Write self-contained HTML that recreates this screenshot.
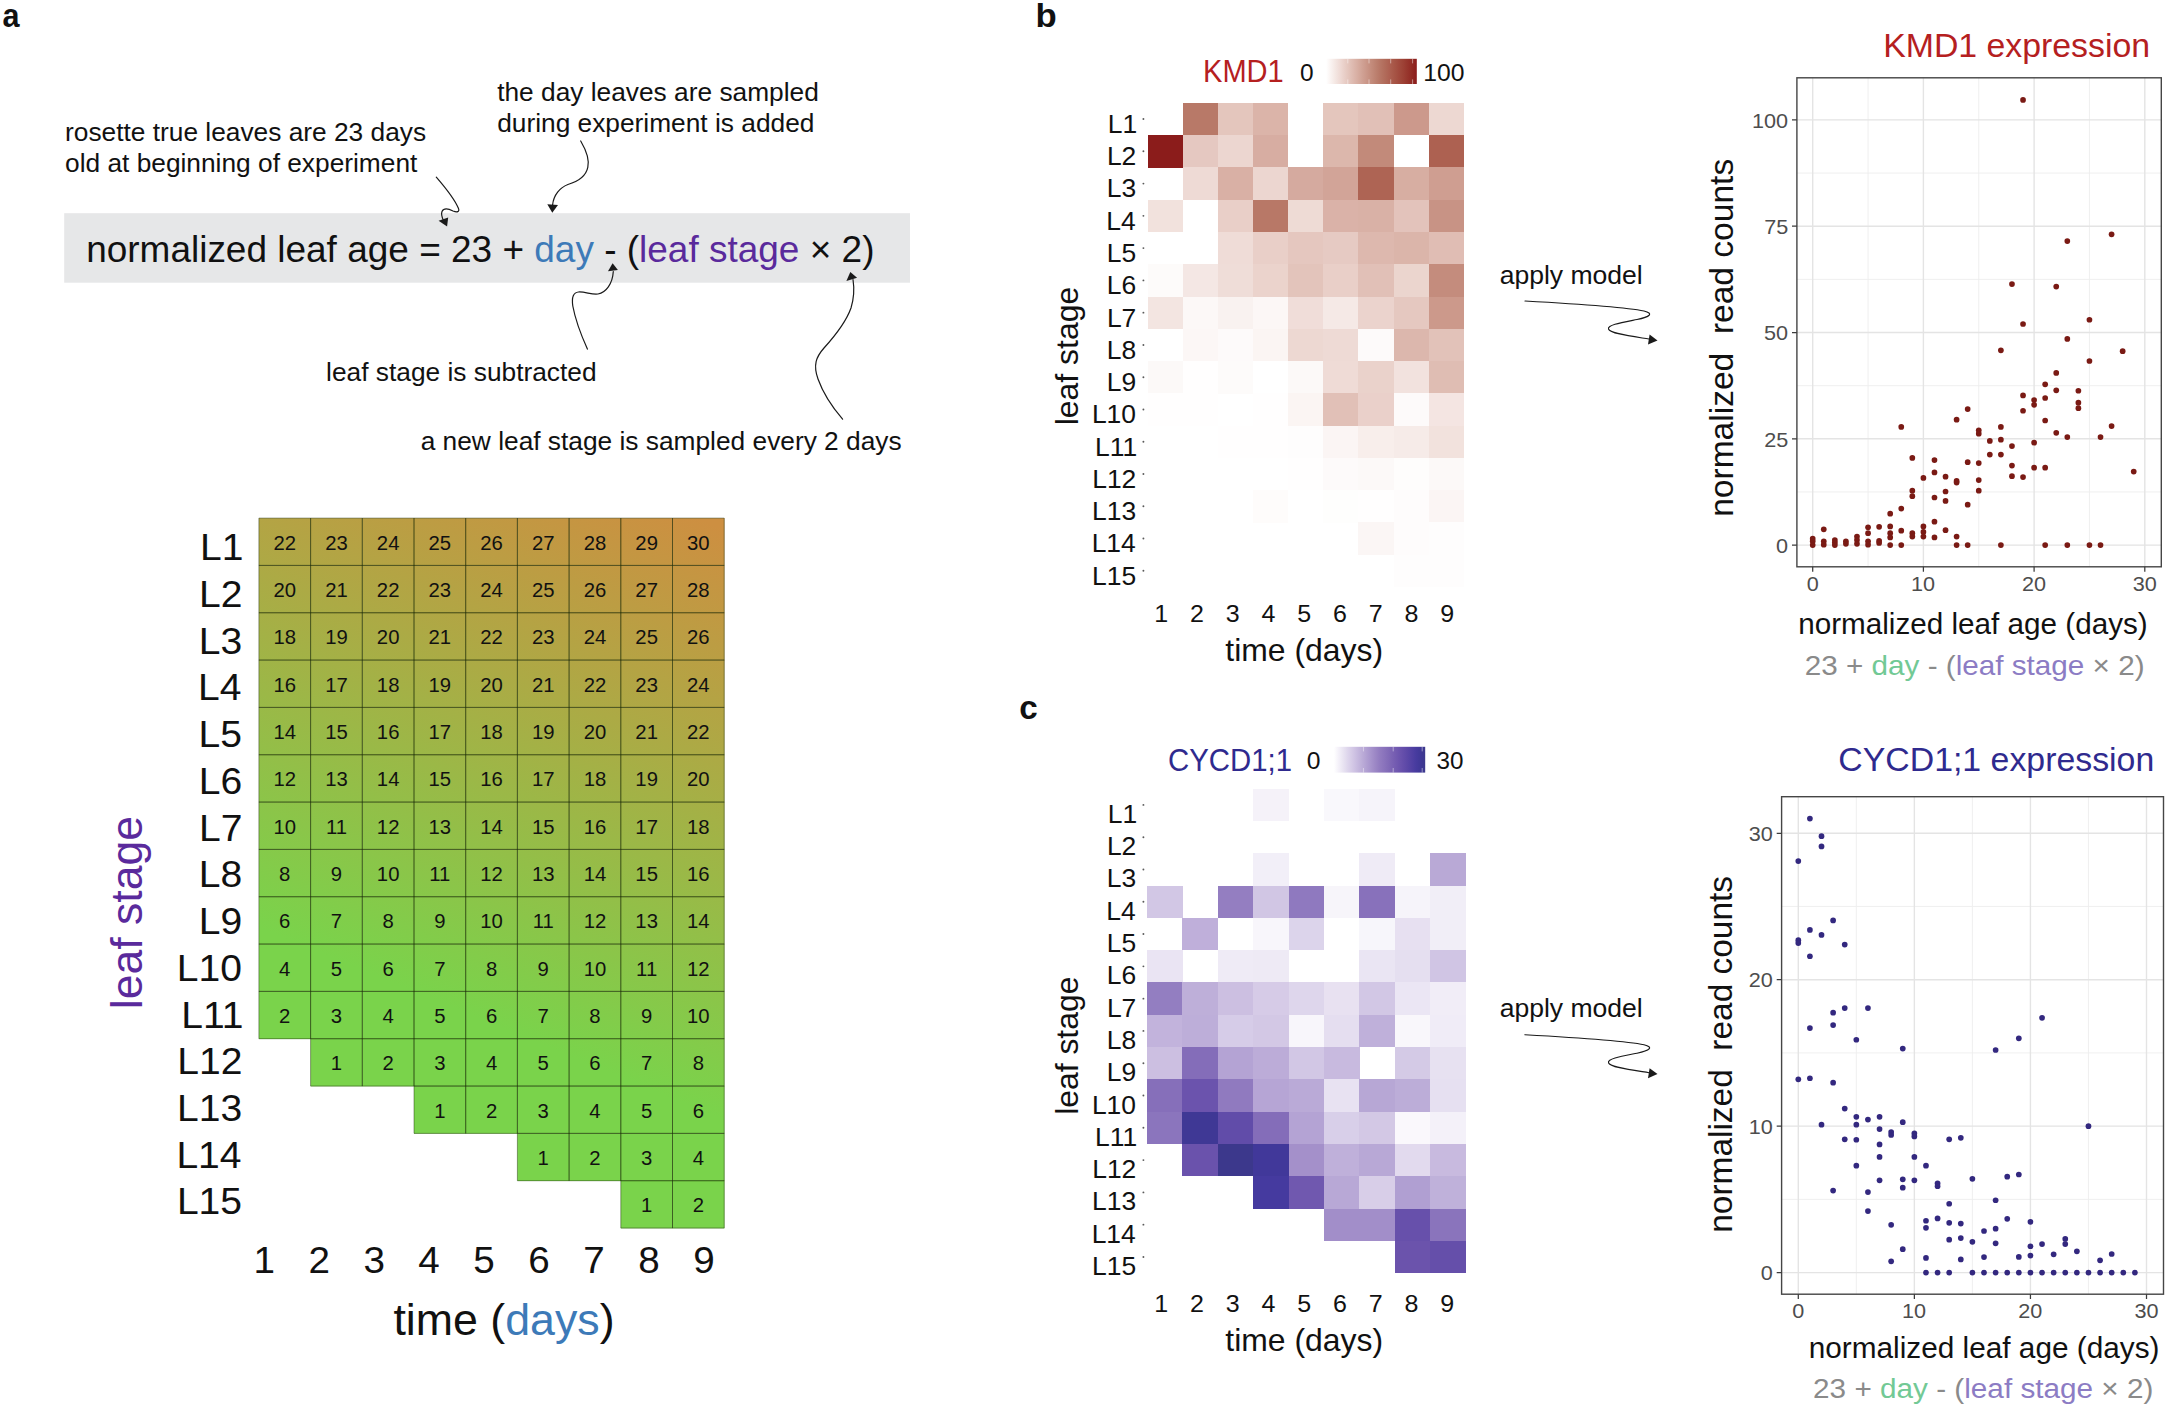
<!DOCTYPE html>
<html lang="en"><head><meta charset="utf-8"><title>Normalized leaf age model</title>
<style>html,body{margin:0;padding:0;background:#fff}svg{display:block}text{font-family:"Liberation Sans",Arial,Helvetica,sans-serif}</style></head><body>
<svg width="2168" height="1410" viewBox="0 0 2168 1410">
<rect width="2168" height="1410" fill="#fff"/>
<text transform="translate(2.40,27.30) scale(0.8991,1)" font-size="34" fill="#111" text-anchor="start" font-weight="bold" xml:space="preserve">a</text>
<text transform="translate(1035.61,27.20) scale(1.0214,1)" font-size="34" fill="#111" text-anchor="start" font-weight="bold" xml:space="preserve">b</text>
<text transform="translate(1019.30,719.30) scale(0.9768,1)" font-size="34" fill="#111" text-anchor="start" font-weight="bold" xml:space="preserve">c</text>
<text x="65.00" y="140.70" font-size="26.3" fill="#111" text-anchor="start">rosette true leaves are 23 days</text>
<text x="65.00" y="172.00" font-size="26.3" fill="#111" text-anchor="start">old at beginning of experiment</text>
<text x="497.20" y="100.60" font-size="26.3" fill="#111" text-anchor="start">the day leaves are sampled</text>
<text x="497.20" y="131.90" font-size="26.3" fill="#111" text-anchor="start">during experiment is added</text>
<text x="326.10" y="381.00" font-size="26.3" fill="#111" text-anchor="start">leaf stage is subtracted</text>
<text x="420.70" y="449.70" font-size="26.3" fill="#111" text-anchor="start">a new leaf stage is sampled every 2 days</text>
<rect x="64.2" y="213.2" width="845.8" height="69.5" fill="#e6e7e8"/>
<text transform="translate(86.14,261.60) scale(1.0107,1)" font-size="36.6" fill="#111" text-anchor="start" xml:space="preserve">normalized leaf age = 23 + <tspan fill="#3d7ab8">day</tspan> - (<tspan fill="#5a2a9c">leaf stage</tspan> × 2)</text>
<path d="M436.3,177.1 C444,186 455,200 458.4,208.3 C460,212 457,212.5 453,211 C448,208.5 443.5,208.5 442,211.5 C441,214 441.8,217 443.5,220.5" fill="none" stroke="#1a1a1a" stroke-width="1.2" stroke-linecap="round"/>
<polygon points="447.1,226.5 438.6,220.8 448.2,217.4" fill="#1a1a1a"/>
<path d="M580.7,141 C586,150 589.5,160 587.8,167.4 C586,176 578,181.5 567.9,184.5 C560,187.5 553.5,195 552.6,205" fill="none" stroke="#1a1a1a" stroke-width="1.2" stroke-linecap="round"/>
<polygon points="552.3,212.8 547.3,204.2 558.0,204.9" fill="#1a1a1a"/>
<path d="M587.4,349.1 C582,337 575,318 572.8,306 C571.5,297 573.5,292.5 578.5,292 C585,291.5 592,295 598,294 C606,292.5 612.5,284 613.3,271.5" fill="none" stroke="#1a1a1a" stroke-width="1.2" stroke-linecap="round"/>
<polygon points="612.6,263.2 608.0,271.2 617.9,270.0" fill="#1a1a1a"/>
<path d="M842.6,419.2 C833,408 823,393 818,379 C813,365 816,357 824,348 C834,337 846,322 851,308 C854,298 854.5,289 853.0,279.5" fill="none" stroke="#1a1a1a" stroke-width="1.2" stroke-linecap="round"/>
<polygon points="850.3,272.0 846.4,280.9 857.1,277.8" fill="#1a1a1a"/>
<defs><linearGradient id="gg" gradientUnits="userSpaceOnUse" x1="285" y1="938" x2="493.9" y2="433.6"><stop offset="0" stop-color="#7ad34b"/><stop offset="1" stop-color="#cd8f41"/></linearGradient></defs>
<rect x="258.90" y="518.10" width="52.00" height="47.63" fill="url(#gg)"/>
<rect x="310.60" y="518.10" width="52.00" height="47.63" fill="url(#gg)"/>
<rect x="362.30" y="518.10" width="52.00" height="47.63" fill="url(#gg)"/>
<rect x="414.00" y="518.10" width="52.00" height="47.63" fill="url(#gg)"/>
<rect x="465.70" y="518.10" width="52.00" height="47.63" fill="url(#gg)"/>
<rect x="517.40" y="518.10" width="52.00" height="47.63" fill="url(#gg)"/>
<rect x="569.10" y="518.10" width="52.00" height="47.63" fill="url(#gg)"/>
<rect x="620.80" y="518.10" width="52.00" height="47.63" fill="url(#gg)"/>
<rect x="672.50" y="518.10" width="52.00" height="47.63" fill="url(#gg)"/>
<rect x="258.90" y="565.43" width="52.00" height="47.63" fill="url(#gg)"/>
<rect x="310.60" y="565.43" width="52.00" height="47.63" fill="url(#gg)"/>
<rect x="362.30" y="565.43" width="52.00" height="47.63" fill="url(#gg)"/>
<rect x="414.00" y="565.43" width="52.00" height="47.63" fill="url(#gg)"/>
<rect x="465.70" y="565.43" width="52.00" height="47.63" fill="url(#gg)"/>
<rect x="517.40" y="565.43" width="52.00" height="47.63" fill="url(#gg)"/>
<rect x="569.10" y="565.43" width="52.00" height="47.63" fill="url(#gg)"/>
<rect x="620.80" y="565.43" width="52.00" height="47.63" fill="url(#gg)"/>
<rect x="672.50" y="565.43" width="52.00" height="47.63" fill="url(#gg)"/>
<rect x="258.90" y="612.76" width="52.00" height="47.63" fill="url(#gg)"/>
<rect x="310.60" y="612.76" width="52.00" height="47.63" fill="url(#gg)"/>
<rect x="362.30" y="612.76" width="52.00" height="47.63" fill="url(#gg)"/>
<rect x="414.00" y="612.76" width="52.00" height="47.63" fill="url(#gg)"/>
<rect x="465.70" y="612.76" width="52.00" height="47.63" fill="url(#gg)"/>
<rect x="517.40" y="612.76" width="52.00" height="47.63" fill="url(#gg)"/>
<rect x="569.10" y="612.76" width="52.00" height="47.63" fill="url(#gg)"/>
<rect x="620.80" y="612.76" width="52.00" height="47.63" fill="url(#gg)"/>
<rect x="672.50" y="612.76" width="52.00" height="47.63" fill="url(#gg)"/>
<rect x="258.90" y="660.09" width="52.00" height="47.63" fill="url(#gg)"/>
<rect x="310.60" y="660.09" width="52.00" height="47.63" fill="url(#gg)"/>
<rect x="362.30" y="660.09" width="52.00" height="47.63" fill="url(#gg)"/>
<rect x="414.00" y="660.09" width="52.00" height="47.63" fill="url(#gg)"/>
<rect x="465.70" y="660.09" width="52.00" height="47.63" fill="url(#gg)"/>
<rect x="517.40" y="660.09" width="52.00" height="47.63" fill="url(#gg)"/>
<rect x="569.10" y="660.09" width="52.00" height="47.63" fill="url(#gg)"/>
<rect x="620.80" y="660.09" width="52.00" height="47.63" fill="url(#gg)"/>
<rect x="672.50" y="660.09" width="52.00" height="47.63" fill="url(#gg)"/>
<rect x="258.90" y="707.42" width="52.00" height="47.63" fill="url(#gg)"/>
<rect x="310.60" y="707.42" width="52.00" height="47.63" fill="url(#gg)"/>
<rect x="362.30" y="707.42" width="52.00" height="47.63" fill="url(#gg)"/>
<rect x="414.00" y="707.42" width="52.00" height="47.63" fill="url(#gg)"/>
<rect x="465.70" y="707.42" width="52.00" height="47.63" fill="url(#gg)"/>
<rect x="517.40" y="707.42" width="52.00" height="47.63" fill="url(#gg)"/>
<rect x="569.10" y="707.42" width="52.00" height="47.63" fill="url(#gg)"/>
<rect x="620.80" y="707.42" width="52.00" height="47.63" fill="url(#gg)"/>
<rect x="672.50" y="707.42" width="52.00" height="47.63" fill="url(#gg)"/>
<rect x="258.90" y="754.75" width="52.00" height="47.63" fill="url(#gg)"/>
<rect x="310.60" y="754.75" width="52.00" height="47.63" fill="url(#gg)"/>
<rect x="362.30" y="754.75" width="52.00" height="47.63" fill="url(#gg)"/>
<rect x="414.00" y="754.75" width="52.00" height="47.63" fill="url(#gg)"/>
<rect x="465.70" y="754.75" width="52.00" height="47.63" fill="url(#gg)"/>
<rect x="517.40" y="754.75" width="52.00" height="47.63" fill="url(#gg)"/>
<rect x="569.10" y="754.75" width="52.00" height="47.63" fill="url(#gg)"/>
<rect x="620.80" y="754.75" width="52.00" height="47.63" fill="url(#gg)"/>
<rect x="672.50" y="754.75" width="52.00" height="47.63" fill="url(#gg)"/>
<rect x="258.90" y="802.08" width="52.00" height="47.63" fill="url(#gg)"/>
<rect x="310.60" y="802.08" width="52.00" height="47.63" fill="url(#gg)"/>
<rect x="362.30" y="802.08" width="52.00" height="47.63" fill="url(#gg)"/>
<rect x="414.00" y="802.08" width="52.00" height="47.63" fill="url(#gg)"/>
<rect x="465.70" y="802.08" width="52.00" height="47.63" fill="url(#gg)"/>
<rect x="517.40" y="802.08" width="52.00" height="47.63" fill="url(#gg)"/>
<rect x="569.10" y="802.08" width="52.00" height="47.63" fill="url(#gg)"/>
<rect x="620.80" y="802.08" width="52.00" height="47.63" fill="url(#gg)"/>
<rect x="672.50" y="802.08" width="52.00" height="47.63" fill="url(#gg)"/>
<rect x="258.90" y="849.41" width="52.00" height="47.63" fill="url(#gg)"/>
<rect x="310.60" y="849.41" width="52.00" height="47.63" fill="url(#gg)"/>
<rect x="362.30" y="849.41" width="52.00" height="47.63" fill="url(#gg)"/>
<rect x="414.00" y="849.41" width="52.00" height="47.63" fill="url(#gg)"/>
<rect x="465.70" y="849.41" width="52.00" height="47.63" fill="url(#gg)"/>
<rect x="517.40" y="849.41" width="52.00" height="47.63" fill="url(#gg)"/>
<rect x="569.10" y="849.41" width="52.00" height="47.63" fill="url(#gg)"/>
<rect x="620.80" y="849.41" width="52.00" height="47.63" fill="url(#gg)"/>
<rect x="672.50" y="849.41" width="52.00" height="47.63" fill="url(#gg)"/>
<rect x="258.90" y="896.74" width="52.00" height="47.63" fill="url(#gg)"/>
<rect x="310.60" y="896.74" width="52.00" height="47.63" fill="url(#gg)"/>
<rect x="362.30" y="896.74" width="52.00" height="47.63" fill="url(#gg)"/>
<rect x="414.00" y="896.74" width="52.00" height="47.63" fill="url(#gg)"/>
<rect x="465.70" y="896.74" width="52.00" height="47.63" fill="url(#gg)"/>
<rect x="517.40" y="896.74" width="52.00" height="47.63" fill="url(#gg)"/>
<rect x="569.10" y="896.74" width="52.00" height="47.63" fill="url(#gg)"/>
<rect x="620.80" y="896.74" width="52.00" height="47.63" fill="url(#gg)"/>
<rect x="672.50" y="896.74" width="52.00" height="47.63" fill="url(#gg)"/>
<rect x="258.90" y="944.07" width="52.00" height="47.63" fill="url(#gg)"/>
<rect x="310.60" y="944.07" width="52.00" height="47.63" fill="url(#gg)"/>
<rect x="362.30" y="944.07" width="52.00" height="47.63" fill="url(#gg)"/>
<rect x="414.00" y="944.07" width="52.00" height="47.63" fill="url(#gg)"/>
<rect x="465.70" y="944.07" width="52.00" height="47.63" fill="url(#gg)"/>
<rect x="517.40" y="944.07" width="52.00" height="47.63" fill="url(#gg)"/>
<rect x="569.10" y="944.07" width="52.00" height="47.63" fill="url(#gg)"/>
<rect x="620.80" y="944.07" width="52.00" height="47.63" fill="url(#gg)"/>
<rect x="672.50" y="944.07" width="52.00" height="47.63" fill="url(#gg)"/>
<rect x="258.90" y="991.40" width="52.00" height="47.63" fill="url(#gg)"/>
<rect x="310.60" y="991.40" width="52.00" height="47.63" fill="url(#gg)"/>
<rect x="362.30" y="991.40" width="52.00" height="47.63" fill="url(#gg)"/>
<rect x="414.00" y="991.40" width="52.00" height="47.63" fill="url(#gg)"/>
<rect x="465.70" y="991.40" width="52.00" height="47.63" fill="url(#gg)"/>
<rect x="517.40" y="991.40" width="52.00" height="47.63" fill="url(#gg)"/>
<rect x="569.10" y="991.40" width="52.00" height="47.63" fill="url(#gg)"/>
<rect x="620.80" y="991.40" width="52.00" height="47.63" fill="url(#gg)"/>
<rect x="672.50" y="991.40" width="52.00" height="47.63" fill="url(#gg)"/>
<rect x="310.60" y="1038.73" width="52.00" height="47.63" fill="url(#gg)"/>
<rect x="362.30" y="1038.73" width="52.00" height="47.63" fill="url(#gg)"/>
<rect x="414.00" y="1038.73" width="52.00" height="47.63" fill="url(#gg)"/>
<rect x="465.70" y="1038.73" width="52.00" height="47.63" fill="url(#gg)"/>
<rect x="517.40" y="1038.73" width="52.00" height="47.63" fill="url(#gg)"/>
<rect x="569.10" y="1038.73" width="52.00" height="47.63" fill="url(#gg)"/>
<rect x="620.80" y="1038.73" width="52.00" height="47.63" fill="url(#gg)"/>
<rect x="672.50" y="1038.73" width="52.00" height="47.63" fill="url(#gg)"/>
<rect x="414.00" y="1086.06" width="52.00" height="47.63" fill="url(#gg)"/>
<rect x="465.70" y="1086.06" width="52.00" height="47.63" fill="url(#gg)"/>
<rect x="517.40" y="1086.06" width="52.00" height="47.63" fill="url(#gg)"/>
<rect x="569.10" y="1086.06" width="52.00" height="47.63" fill="url(#gg)"/>
<rect x="620.80" y="1086.06" width="52.00" height="47.63" fill="url(#gg)"/>
<rect x="672.50" y="1086.06" width="52.00" height="47.63" fill="url(#gg)"/>
<rect x="517.40" y="1133.39" width="52.00" height="47.63" fill="url(#gg)"/>
<rect x="569.10" y="1133.39" width="52.00" height="47.63" fill="url(#gg)"/>
<rect x="620.80" y="1133.39" width="52.00" height="47.63" fill="url(#gg)"/>
<rect x="672.50" y="1133.39" width="52.00" height="47.63" fill="url(#gg)"/>
<rect x="620.80" y="1180.72" width="52.00" height="47.63" fill="url(#gg)"/>
<rect x="672.50" y="1180.72" width="52.00" height="47.63" fill="url(#gg)"/>
<path d="M258.90,518.10h51.70v47.33h-51.70zM310.60,518.10h51.70v47.33h-51.70zM362.30,518.10h51.70v47.33h-51.70zM414.00,518.10h51.70v47.33h-51.70zM465.70,518.10h51.70v47.33h-51.70zM517.40,518.10h51.70v47.33h-51.70zM569.10,518.10h51.70v47.33h-51.70zM620.80,518.10h51.70v47.33h-51.70zM672.50,518.10h51.70v47.33h-51.70zM258.90,565.43h51.70v47.33h-51.70zM310.60,565.43h51.70v47.33h-51.70zM362.30,565.43h51.70v47.33h-51.70zM414.00,565.43h51.70v47.33h-51.70zM465.70,565.43h51.70v47.33h-51.70zM517.40,565.43h51.70v47.33h-51.70zM569.10,565.43h51.70v47.33h-51.70zM620.80,565.43h51.70v47.33h-51.70zM672.50,565.43h51.70v47.33h-51.70zM258.90,612.76h51.70v47.33h-51.70zM310.60,612.76h51.70v47.33h-51.70zM362.30,612.76h51.70v47.33h-51.70zM414.00,612.76h51.70v47.33h-51.70zM465.70,612.76h51.70v47.33h-51.70zM517.40,612.76h51.70v47.33h-51.70zM569.10,612.76h51.70v47.33h-51.70zM620.80,612.76h51.70v47.33h-51.70zM672.50,612.76h51.70v47.33h-51.70zM258.90,660.09h51.70v47.33h-51.70zM310.60,660.09h51.70v47.33h-51.70zM362.30,660.09h51.70v47.33h-51.70zM414.00,660.09h51.70v47.33h-51.70zM465.70,660.09h51.70v47.33h-51.70zM517.40,660.09h51.70v47.33h-51.70zM569.10,660.09h51.70v47.33h-51.70zM620.80,660.09h51.70v47.33h-51.70zM672.50,660.09h51.70v47.33h-51.70zM258.90,707.42h51.70v47.33h-51.70zM310.60,707.42h51.70v47.33h-51.70zM362.30,707.42h51.70v47.33h-51.70zM414.00,707.42h51.70v47.33h-51.70zM465.70,707.42h51.70v47.33h-51.70zM517.40,707.42h51.70v47.33h-51.70zM569.10,707.42h51.70v47.33h-51.70zM620.80,707.42h51.70v47.33h-51.70zM672.50,707.42h51.70v47.33h-51.70zM258.90,754.75h51.70v47.33h-51.70zM310.60,754.75h51.70v47.33h-51.70zM362.30,754.75h51.70v47.33h-51.70zM414.00,754.75h51.70v47.33h-51.70zM465.70,754.75h51.70v47.33h-51.70zM517.40,754.75h51.70v47.33h-51.70zM569.10,754.75h51.70v47.33h-51.70zM620.80,754.75h51.70v47.33h-51.70zM672.50,754.75h51.70v47.33h-51.70zM258.90,802.08h51.70v47.33h-51.70zM310.60,802.08h51.70v47.33h-51.70zM362.30,802.08h51.70v47.33h-51.70zM414.00,802.08h51.70v47.33h-51.70zM465.70,802.08h51.70v47.33h-51.70zM517.40,802.08h51.70v47.33h-51.70zM569.10,802.08h51.70v47.33h-51.70zM620.80,802.08h51.70v47.33h-51.70zM672.50,802.08h51.70v47.33h-51.70zM258.90,849.41h51.70v47.33h-51.70zM310.60,849.41h51.70v47.33h-51.70zM362.30,849.41h51.70v47.33h-51.70zM414.00,849.41h51.70v47.33h-51.70zM465.70,849.41h51.70v47.33h-51.70zM517.40,849.41h51.70v47.33h-51.70zM569.10,849.41h51.70v47.33h-51.70zM620.80,849.41h51.70v47.33h-51.70zM672.50,849.41h51.70v47.33h-51.70zM258.90,896.74h51.70v47.33h-51.70zM310.60,896.74h51.70v47.33h-51.70zM362.30,896.74h51.70v47.33h-51.70zM414.00,896.74h51.70v47.33h-51.70zM465.70,896.74h51.70v47.33h-51.70zM517.40,896.74h51.70v47.33h-51.70zM569.10,896.74h51.70v47.33h-51.70zM620.80,896.74h51.70v47.33h-51.70zM672.50,896.74h51.70v47.33h-51.70zM258.90,944.07h51.70v47.33h-51.70zM310.60,944.07h51.70v47.33h-51.70zM362.30,944.07h51.70v47.33h-51.70zM414.00,944.07h51.70v47.33h-51.70zM465.70,944.07h51.70v47.33h-51.70zM517.40,944.07h51.70v47.33h-51.70zM569.10,944.07h51.70v47.33h-51.70zM620.80,944.07h51.70v47.33h-51.70zM672.50,944.07h51.70v47.33h-51.70zM258.90,991.40h51.70v47.33h-51.70zM310.60,991.40h51.70v47.33h-51.70zM362.30,991.40h51.70v47.33h-51.70zM414.00,991.40h51.70v47.33h-51.70zM465.70,991.40h51.70v47.33h-51.70zM517.40,991.40h51.70v47.33h-51.70zM569.10,991.40h51.70v47.33h-51.70zM620.80,991.40h51.70v47.33h-51.70zM672.50,991.40h51.70v47.33h-51.70zM310.60,1038.73h51.70v47.33h-51.70zM362.30,1038.73h51.70v47.33h-51.70zM414.00,1038.73h51.70v47.33h-51.70zM465.70,1038.73h51.70v47.33h-51.70zM517.40,1038.73h51.70v47.33h-51.70zM569.10,1038.73h51.70v47.33h-51.70zM620.80,1038.73h51.70v47.33h-51.70zM672.50,1038.73h51.70v47.33h-51.70zM414.00,1086.06h51.70v47.33h-51.70zM465.70,1086.06h51.70v47.33h-51.70zM517.40,1086.06h51.70v47.33h-51.70zM569.10,1086.06h51.70v47.33h-51.70zM620.80,1086.06h51.70v47.33h-51.70zM672.50,1086.06h51.70v47.33h-51.70zM517.40,1133.39h51.70v47.33h-51.70zM569.10,1133.39h51.70v47.33h-51.70zM620.80,1133.39h51.70v47.33h-51.70zM672.50,1133.39h51.70v47.33h-51.70zM620.80,1180.72h51.70v47.33h-51.70zM672.50,1180.72h51.70v47.33h-51.70z" fill="none" stroke="#1a2a08" stroke-opacity="0.55" stroke-width="0.8"/>
<text x="284.75" y="549.76" font-size="20.3" fill="#111" text-anchor="middle">22</text>
<text x="336.45" y="549.76" font-size="20.3" fill="#111" text-anchor="middle">23</text>
<text x="388.15" y="549.76" font-size="20.3" fill="#111" text-anchor="middle">24</text>
<text x="439.85" y="549.76" font-size="20.3" fill="#111" text-anchor="middle">25</text>
<text x="491.55" y="549.76" font-size="20.3" fill="#111" text-anchor="middle">26</text>
<text x="543.25" y="549.76" font-size="20.3" fill="#111" text-anchor="middle">27</text>
<text x="594.95" y="549.76" font-size="20.3" fill="#111" text-anchor="middle">28</text>
<text x="646.65" y="549.76" font-size="20.3" fill="#111" text-anchor="middle">29</text>
<text x="698.35" y="549.76" font-size="20.3" fill="#111" text-anchor="middle">30</text>
<text x="284.75" y="597.10" font-size="20.3" fill="#111" text-anchor="middle">20</text>
<text x="336.45" y="597.10" font-size="20.3" fill="#111" text-anchor="middle">21</text>
<text x="388.15" y="597.10" font-size="20.3" fill="#111" text-anchor="middle">22</text>
<text x="439.85" y="597.10" font-size="20.3" fill="#111" text-anchor="middle">23</text>
<text x="491.55" y="597.10" font-size="20.3" fill="#111" text-anchor="middle">24</text>
<text x="543.25" y="597.10" font-size="20.3" fill="#111" text-anchor="middle">25</text>
<text x="594.95" y="597.10" font-size="20.3" fill="#111" text-anchor="middle">26</text>
<text x="646.65" y="597.10" font-size="20.3" fill="#111" text-anchor="middle">27</text>
<text x="698.35" y="597.10" font-size="20.3" fill="#111" text-anchor="middle">28</text>
<text x="284.75" y="644.42" font-size="20.3" fill="#111" text-anchor="middle">18</text>
<text x="336.45" y="644.42" font-size="20.3" fill="#111" text-anchor="middle">19</text>
<text x="388.15" y="644.42" font-size="20.3" fill="#111" text-anchor="middle">20</text>
<text x="439.85" y="644.42" font-size="20.3" fill="#111" text-anchor="middle">21</text>
<text x="491.55" y="644.42" font-size="20.3" fill="#111" text-anchor="middle">22</text>
<text x="543.25" y="644.42" font-size="20.3" fill="#111" text-anchor="middle">23</text>
<text x="594.95" y="644.42" font-size="20.3" fill="#111" text-anchor="middle">24</text>
<text x="646.65" y="644.42" font-size="20.3" fill="#111" text-anchor="middle">25</text>
<text x="698.35" y="644.42" font-size="20.3" fill="#111" text-anchor="middle">26</text>
<text x="284.75" y="691.75" font-size="20.3" fill="#111" text-anchor="middle">16</text>
<text x="336.45" y="691.75" font-size="20.3" fill="#111" text-anchor="middle">17</text>
<text x="388.15" y="691.75" font-size="20.3" fill="#111" text-anchor="middle">18</text>
<text x="439.85" y="691.75" font-size="20.3" fill="#111" text-anchor="middle">19</text>
<text x="491.55" y="691.75" font-size="20.3" fill="#111" text-anchor="middle">20</text>
<text x="543.25" y="691.75" font-size="20.3" fill="#111" text-anchor="middle">21</text>
<text x="594.95" y="691.75" font-size="20.3" fill="#111" text-anchor="middle">22</text>
<text x="646.65" y="691.75" font-size="20.3" fill="#111" text-anchor="middle">23</text>
<text x="698.35" y="691.75" font-size="20.3" fill="#111" text-anchor="middle">24</text>
<text x="284.75" y="739.09" font-size="20.3" fill="#111" text-anchor="middle">14</text>
<text x="336.45" y="739.09" font-size="20.3" fill="#111" text-anchor="middle">15</text>
<text x="388.15" y="739.09" font-size="20.3" fill="#111" text-anchor="middle">16</text>
<text x="439.85" y="739.09" font-size="20.3" fill="#111" text-anchor="middle">17</text>
<text x="491.55" y="739.09" font-size="20.3" fill="#111" text-anchor="middle">18</text>
<text x="543.25" y="739.09" font-size="20.3" fill="#111" text-anchor="middle">19</text>
<text x="594.95" y="739.09" font-size="20.3" fill="#111" text-anchor="middle">20</text>
<text x="646.65" y="739.09" font-size="20.3" fill="#111" text-anchor="middle">21</text>
<text x="698.35" y="739.09" font-size="20.3" fill="#111" text-anchor="middle">22</text>
<text x="284.75" y="786.41" font-size="20.3" fill="#111" text-anchor="middle">12</text>
<text x="336.45" y="786.41" font-size="20.3" fill="#111" text-anchor="middle">13</text>
<text x="388.15" y="786.41" font-size="20.3" fill="#111" text-anchor="middle">14</text>
<text x="439.85" y="786.41" font-size="20.3" fill="#111" text-anchor="middle">15</text>
<text x="491.55" y="786.41" font-size="20.3" fill="#111" text-anchor="middle">16</text>
<text x="543.25" y="786.41" font-size="20.3" fill="#111" text-anchor="middle">17</text>
<text x="594.95" y="786.41" font-size="20.3" fill="#111" text-anchor="middle">18</text>
<text x="646.65" y="786.41" font-size="20.3" fill="#111" text-anchor="middle">19</text>
<text x="698.35" y="786.41" font-size="20.3" fill="#111" text-anchor="middle">20</text>
<text x="284.75" y="833.75" font-size="20.3" fill="#111" text-anchor="middle">10</text>
<text x="336.45" y="833.75" font-size="20.3" fill="#111" text-anchor="middle">11</text>
<text x="388.15" y="833.75" font-size="20.3" fill="#111" text-anchor="middle">12</text>
<text x="439.85" y="833.75" font-size="20.3" fill="#111" text-anchor="middle">13</text>
<text x="491.55" y="833.75" font-size="20.3" fill="#111" text-anchor="middle">14</text>
<text x="543.25" y="833.75" font-size="20.3" fill="#111" text-anchor="middle">15</text>
<text x="594.95" y="833.75" font-size="20.3" fill="#111" text-anchor="middle">16</text>
<text x="646.65" y="833.75" font-size="20.3" fill="#111" text-anchor="middle">17</text>
<text x="698.35" y="833.75" font-size="20.3" fill="#111" text-anchor="middle">18</text>
<text x="284.75" y="881.08" font-size="20.3" fill="#111" text-anchor="middle">8</text>
<text x="336.45" y="881.08" font-size="20.3" fill="#111" text-anchor="middle">9</text>
<text x="388.15" y="881.08" font-size="20.3" fill="#111" text-anchor="middle">10</text>
<text x="439.85" y="881.08" font-size="20.3" fill="#111" text-anchor="middle">11</text>
<text x="491.55" y="881.08" font-size="20.3" fill="#111" text-anchor="middle">12</text>
<text x="543.25" y="881.08" font-size="20.3" fill="#111" text-anchor="middle">13</text>
<text x="594.95" y="881.08" font-size="20.3" fill="#111" text-anchor="middle">14</text>
<text x="646.65" y="881.08" font-size="20.3" fill="#111" text-anchor="middle">15</text>
<text x="698.35" y="881.08" font-size="20.3" fill="#111" text-anchor="middle">16</text>
<text x="284.75" y="928.40" font-size="20.3" fill="#111" text-anchor="middle">6</text>
<text x="336.45" y="928.40" font-size="20.3" fill="#111" text-anchor="middle">7</text>
<text x="388.15" y="928.40" font-size="20.3" fill="#111" text-anchor="middle">8</text>
<text x="439.85" y="928.40" font-size="20.3" fill="#111" text-anchor="middle">9</text>
<text x="491.55" y="928.40" font-size="20.3" fill="#111" text-anchor="middle">10</text>
<text x="543.25" y="928.40" font-size="20.3" fill="#111" text-anchor="middle">11</text>
<text x="594.95" y="928.40" font-size="20.3" fill="#111" text-anchor="middle">12</text>
<text x="646.65" y="928.40" font-size="20.3" fill="#111" text-anchor="middle">13</text>
<text x="698.35" y="928.40" font-size="20.3" fill="#111" text-anchor="middle">14</text>
<text x="284.75" y="975.74" font-size="20.3" fill="#111" text-anchor="middle">4</text>
<text x="336.45" y="975.74" font-size="20.3" fill="#111" text-anchor="middle">5</text>
<text x="388.15" y="975.74" font-size="20.3" fill="#111" text-anchor="middle">6</text>
<text x="439.85" y="975.74" font-size="20.3" fill="#111" text-anchor="middle">7</text>
<text x="491.55" y="975.74" font-size="20.3" fill="#111" text-anchor="middle">8</text>
<text x="543.25" y="975.74" font-size="20.3" fill="#111" text-anchor="middle">9</text>
<text x="594.95" y="975.74" font-size="20.3" fill="#111" text-anchor="middle">10</text>
<text x="646.65" y="975.74" font-size="20.3" fill="#111" text-anchor="middle">11</text>
<text x="698.35" y="975.74" font-size="20.3" fill="#111" text-anchor="middle">12</text>
<text x="284.75" y="1023.07" font-size="20.3" fill="#111" text-anchor="middle">2</text>
<text x="336.45" y="1023.07" font-size="20.3" fill="#111" text-anchor="middle">3</text>
<text x="388.15" y="1023.07" font-size="20.3" fill="#111" text-anchor="middle">4</text>
<text x="439.85" y="1023.07" font-size="20.3" fill="#111" text-anchor="middle">5</text>
<text x="491.55" y="1023.07" font-size="20.3" fill="#111" text-anchor="middle">6</text>
<text x="543.25" y="1023.07" font-size="20.3" fill="#111" text-anchor="middle">7</text>
<text x="594.95" y="1023.07" font-size="20.3" fill="#111" text-anchor="middle">8</text>
<text x="646.65" y="1023.07" font-size="20.3" fill="#111" text-anchor="middle">9</text>
<text x="698.35" y="1023.07" font-size="20.3" fill="#111" text-anchor="middle">10</text>
<text x="336.45" y="1070.39" font-size="20.3" fill="#111" text-anchor="middle">1</text>
<text x="388.15" y="1070.39" font-size="20.3" fill="#111" text-anchor="middle">2</text>
<text x="439.85" y="1070.39" font-size="20.3" fill="#111" text-anchor="middle">3</text>
<text x="491.55" y="1070.39" font-size="20.3" fill="#111" text-anchor="middle">4</text>
<text x="543.25" y="1070.39" font-size="20.3" fill="#111" text-anchor="middle">5</text>
<text x="594.95" y="1070.39" font-size="20.3" fill="#111" text-anchor="middle">6</text>
<text x="646.65" y="1070.39" font-size="20.3" fill="#111" text-anchor="middle">7</text>
<text x="698.35" y="1070.39" font-size="20.3" fill="#111" text-anchor="middle">8</text>
<text x="439.85" y="1117.72" font-size="20.3" fill="#111" text-anchor="middle">1</text>
<text x="491.55" y="1117.72" font-size="20.3" fill="#111" text-anchor="middle">2</text>
<text x="543.25" y="1117.72" font-size="20.3" fill="#111" text-anchor="middle">3</text>
<text x="594.95" y="1117.72" font-size="20.3" fill="#111" text-anchor="middle">4</text>
<text x="646.65" y="1117.72" font-size="20.3" fill="#111" text-anchor="middle">5</text>
<text x="698.35" y="1117.72" font-size="20.3" fill="#111" text-anchor="middle">6</text>
<text x="543.25" y="1165.05" font-size="20.3" fill="#111" text-anchor="middle">1</text>
<text x="594.95" y="1165.05" font-size="20.3" fill="#111" text-anchor="middle">2</text>
<text x="646.65" y="1165.05" font-size="20.3" fill="#111" text-anchor="middle">3</text>
<text x="698.35" y="1165.05" font-size="20.3" fill="#111" text-anchor="middle">4</text>
<text x="646.65" y="1212.38" font-size="20.3" fill="#111" text-anchor="middle">1</text>
<text x="698.35" y="1212.38" font-size="20.3" fill="#111" text-anchor="middle">2</text>
<text transform="translate(200.08,560.20) scale(1.0360,1)" font-size="37.7" fill="#111" text-anchor="start" xml:space="preserve">L1</text>
<text transform="translate(198.94,606.93) scale(1.0360,1)" font-size="37.7" fill="#111" text-anchor="start" xml:space="preserve">L2</text>
<text transform="translate(198.69,653.66) scale(1.0360,1)" font-size="37.7" fill="#111" text-anchor="start" xml:space="preserve">L3</text>
<text transform="translate(198.12,700.39) scale(1.0360,1)" font-size="37.7" fill="#111" text-anchor="start" xml:space="preserve">L4</text>
<text transform="translate(198.61,747.12) scale(1.0360,1)" font-size="37.7" fill="#111" text-anchor="start" xml:space="preserve">L5</text>
<text transform="translate(198.69,793.85) scale(1.0360,1)" font-size="37.7" fill="#111" text-anchor="start" xml:space="preserve">L6</text>
<text transform="translate(198.94,840.58) scale(1.0360,1)" font-size="37.7" fill="#111" text-anchor="start" xml:space="preserve">L7</text>
<text transform="translate(198.67,887.31) scale(1.0360,1)" font-size="37.7" fill="#111" text-anchor="start" xml:space="preserve">L8</text>
<text transform="translate(198.82,934.04) scale(1.0360,1)" font-size="37.7" fill="#111" text-anchor="start" xml:space="preserve">L9</text>
<text transform="translate(176.78,980.77) scale(1.0360,1)" font-size="37.7" fill="#111" text-anchor="start" xml:space="preserve">L10</text>
<text transform="translate(181.26,1027.50) scale(1.0360,1)" font-size="37.7" fill="#111" text-anchor="start" xml:space="preserve">L11</text>
<text transform="translate(177.22,1074.23) scale(1.0360,1)" font-size="37.7" fill="#111" text-anchor="start" xml:space="preserve">L12</text>
<text transform="translate(176.97,1120.96) scale(1.0360,1)" font-size="37.7" fill="#111" text-anchor="start" xml:space="preserve">L13</text>
<text transform="translate(176.40,1167.69) scale(1.0360,1)" font-size="37.7" fill="#111" text-anchor="start" xml:space="preserve">L14</text>
<text transform="translate(176.90,1214.42) scale(1.0360,1)" font-size="37.7" fill="#111" text-anchor="start" xml:space="preserve">L15</text>
<text transform="translate(253.46,1272.70) scale(1.0300,1)" font-size="37.5" fill="#111" text-anchor="start">1</text>
<text transform="translate(308.43,1272.70) scale(1.0300,1)" font-size="37.5" fill="#111" text-anchor="start">2</text>
<text transform="translate(363.40,1272.70) scale(1.0300,1)" font-size="37.5" fill="#111" text-anchor="start">3</text>
<text transform="translate(418.37,1272.70) scale(1.0300,1)" font-size="37.5" fill="#111" text-anchor="start">4</text>
<text transform="translate(473.34,1272.70) scale(1.0300,1)" font-size="37.5" fill="#111" text-anchor="start">5</text>
<text transform="translate(528.31,1272.70) scale(1.0300,1)" font-size="37.5" fill="#111" text-anchor="start">6</text>
<text transform="translate(583.28,1272.70) scale(1.0300,1)" font-size="37.5" fill="#111" text-anchor="start">7</text>
<text transform="translate(638.25,1272.70) scale(1.0300,1)" font-size="37.5" fill="#111" text-anchor="start">8</text>
<text transform="translate(693.22,1272.70) scale(1.0300,1)" font-size="37.5" fill="#111" text-anchor="start">9</text>
<text transform="translate(393.42,1334.50) scale(1.0258,1)" font-size="43.6" fill="#111" text-anchor="start" xml:space="preserve">time (<tspan fill="#3d7ab8">days</tspan>)</text>
<text transform="translate(142.30,1009.20) rotate(-90) scale(0.9950,1)" font-size="44.8" fill="#5a2a9c" xml:space="preserve">leaf stage</text>
<g shape-rendering="crispEdges">
<rect x="1182.82" y="102.90" width="35.37" height="32.52" fill="#b87968"/>
<rect x="1217.94" y="102.90" width="35.37" height="32.52" fill="#e4c6bd"/>
<rect x="1253.06" y="102.90" width="35.37" height="32.52" fill="#dbb4a9"/>
<rect x="1323.30" y="102.90" width="35.37" height="32.52" fill="#e4c6bd"/>
<rect x="1358.42" y="102.90" width="35.37" height="32.52" fill="#e1c0b7"/>
<rect x="1393.54" y="102.90" width="35.37" height="32.52" fill="#cc998c"/>
<rect x="1428.66" y="102.90" width="35.37" height="32.52" fill="#edd8d2"/>
<rect x="1147.70" y="135.17" width="35.37" height="32.52" fill="#8b1c1b"/>
<rect x="1182.82" y="135.17" width="35.37" height="32.52" fill="#e5c8c1"/>
<rect x="1217.94" y="135.17" width="35.37" height="32.52" fill="#ecd6d0"/>
<rect x="1253.06" y="135.17" width="35.37" height="32.52" fill="#d7ada2"/>
<rect x="1323.30" y="135.17" width="35.37" height="32.52" fill="#dcb7ac"/>
<rect x="1358.42" y="135.17" width="35.37" height="32.52" fill="#c28a7a"/>
<rect x="1428.66" y="135.17" width="35.37" height="32.52" fill="#ad6151"/>
<rect x="1182.82" y="167.44" width="35.37" height="32.52" fill="#eedad5"/>
<rect x="1217.94" y="167.44" width="35.37" height="32.52" fill="#d9b0a5"/>
<rect x="1253.06" y="167.44" width="35.37" height="32.52" fill="#ecd6d0"/>
<rect x="1288.18" y="167.44" width="35.37" height="32.52" fill="#d5aa9f"/>
<rect x="1323.30" y="167.44" width="35.37" height="32.52" fill="#d2a498"/>
<rect x="1358.42" y="167.44" width="35.37" height="32.52" fill="#ae6454"/>
<rect x="1393.54" y="167.44" width="35.37" height="32.52" fill="#d7aea2"/>
<rect x="1428.66" y="167.44" width="35.37" height="32.52" fill="#cf9e91"/>
<rect x="1147.70" y="199.71" width="35.37" height="32.52" fill="#f2e2dd"/>
<rect x="1217.94" y="199.71" width="35.37" height="32.52" fill="#e9cfc8"/>
<rect x="1253.06" y="199.71" width="35.37" height="32.52" fill="#b87867"/>
<rect x="1288.18" y="199.71" width="35.37" height="32.52" fill="#eedbd5"/>
<rect x="1323.30" y="199.71" width="35.37" height="32.52" fill="#dab2a8"/>
<rect x="1358.42" y="199.71" width="35.37" height="32.52" fill="#d9b1a6"/>
<rect x="1393.54" y="199.71" width="35.37" height="32.52" fill="#e3c3bb"/>
<rect x="1428.66" y="199.71" width="35.37" height="32.52" fill="#c89385"/>
<rect x="1217.94" y="231.98" width="35.37" height="32.52" fill="#efdcd7"/>
<rect x="1253.06" y="231.98" width="35.37" height="32.52" fill="#e9cfc8"/>
<rect x="1288.18" y="231.98" width="35.37" height="32.52" fill="#e5c7bf"/>
<rect x="1323.30" y="231.98" width="35.37" height="32.52" fill="#e6cac3"/>
<rect x="1358.42" y="231.98" width="35.37" height="32.52" fill="#ddb8ae"/>
<rect x="1393.54" y="231.98" width="35.37" height="32.52" fill="#dbb5aa"/>
<rect x="1428.66" y="231.98" width="35.37" height="32.52" fill="#e0bdb4"/>
<rect x="1147.70" y="264.25" width="35.37" height="32.52" fill="#fdfbfa"/>
<rect x="1182.82" y="264.25" width="35.37" height="32.52" fill="#f4e7e4"/>
<rect x="1217.94" y="264.25" width="35.37" height="32.52" fill="#efddd8"/>
<rect x="1253.06" y="264.25" width="35.37" height="32.52" fill="#ebd3cc"/>
<rect x="1288.18" y="264.25" width="35.37" height="32.52" fill="#e3c4bb"/>
<rect x="1323.30" y="264.25" width="35.37" height="32.52" fill="#e9cfc8"/>
<rect x="1358.42" y="264.25" width="35.37" height="32.52" fill="#e1c0b7"/>
<rect x="1393.54" y="264.25" width="35.37" height="32.52" fill="#ebd5ce"/>
<rect x="1428.66" y="264.25" width="35.37" height="32.52" fill="#c48c7d"/>
<rect x="1147.70" y="296.52" width="35.37" height="32.52" fill="#f3e5e1"/>
<rect x="1182.82" y="296.52" width="35.37" height="32.52" fill="#fcf8f7"/>
<rect x="1217.94" y="296.52" width="35.37" height="32.52" fill="#f9f2f0"/>
<rect x="1253.06" y="296.52" width="35.37" height="32.52" fill="#fcf7f6"/>
<rect x="1288.18" y="296.52" width="35.37" height="32.52" fill="#f0ddd9"/>
<rect x="1323.30" y="296.52" width="35.37" height="32.52" fill="#f5e9e6"/>
<rect x="1358.42" y="296.52" width="35.37" height="32.52" fill="#ebd3cd"/>
<rect x="1393.54" y="296.52" width="35.37" height="32.52" fill="#e5c8c0"/>
<rect x="1428.66" y="296.52" width="35.37" height="32.52" fill="#cc998b"/>
<rect x="1182.82" y="328.79" width="35.37" height="32.52" fill="#fcf7f6"/>
<rect x="1217.94" y="328.79" width="35.37" height="32.52" fill="#fdfafa"/>
<rect x="1253.06" y="328.79" width="35.37" height="32.52" fill="#fbf5f3"/>
<rect x="1288.18" y="328.79" width="35.37" height="32.52" fill="#edd8d2"/>
<rect x="1323.30" y="328.79" width="35.37" height="32.52" fill="#eedad5"/>
<rect x="1358.42" y="328.79" width="35.37" height="32.52" fill="#fdfafa"/>
<rect x="1393.54" y="328.79" width="35.37" height="32.52" fill="#dcb7ad"/>
<rect x="1428.66" y="328.79" width="35.37" height="32.52" fill="#e2c2b9"/>
<rect x="1147.70" y="361.06" width="35.37" height="32.52" fill="#fcf9f8"/>
<rect x="1182.82" y="361.06" width="35.37" height="32.52" fill="#fffefe"/>
<rect x="1217.94" y="361.06" width="35.37" height="32.52" fill="#fdfbfa"/>
<rect x="1288.18" y="361.06" width="35.37" height="32.52" fill="#fcf9f8"/>
<rect x="1323.30" y="361.06" width="35.37" height="32.52" fill="#efdbd6"/>
<rect x="1358.42" y="361.06" width="35.37" height="32.52" fill="#ead2cb"/>
<rect x="1393.54" y="361.06" width="35.37" height="32.52" fill="#f2e2de"/>
<rect x="1428.66" y="361.06" width="35.37" height="32.52" fill="#dfbdb3"/>
<rect x="1147.70" y="393.33" width="35.37" height="32.52" fill="#fffefe"/>
<rect x="1182.82" y="393.33" width="35.37" height="32.52" fill="#fffefe"/>
<rect x="1253.06" y="393.33" width="35.37" height="32.52" fill="#fffefe"/>
<rect x="1288.18" y="393.33" width="35.37" height="32.52" fill="#fbf5f3"/>
<rect x="1323.30" y="393.33" width="35.37" height="32.52" fill="#e1c0b7"/>
<rect x="1358.42" y="393.33" width="35.37" height="32.52" fill="#ead0ca"/>
<rect x="1393.54" y="393.33" width="35.37" height="32.52" fill="#fdfafa"/>
<rect x="1428.66" y="393.33" width="35.37" height="32.52" fill="#f4e5e2"/>
<rect x="1217.94" y="425.60" width="35.37" height="32.52" fill="#fffefe"/>
<rect x="1253.06" y="425.60" width="35.37" height="32.52" fill="#fffefe"/>
<rect x="1288.18" y="425.60" width="35.37" height="32.52" fill="#fefdfd"/>
<rect x="1323.30" y="425.60" width="35.37" height="32.52" fill="#fbf5f4"/>
<rect x="1358.42" y="425.60" width="35.37" height="32.52" fill="#f8eeeb"/>
<rect x="1393.54" y="425.60" width="35.37" height="32.52" fill="#f6ebe8"/>
<rect x="1428.66" y="425.60" width="35.37" height="32.52" fill="#f2e2dd"/>
<rect x="1288.18" y="457.87" width="35.37" height="32.52" fill="#fffefe"/>
<rect x="1323.30" y="457.87" width="35.37" height="32.52" fill="#fdfafa"/>
<rect x="1358.42" y="457.87" width="35.37" height="32.52" fill="#fcf9f8"/>
<rect x="1393.54" y="457.87" width="35.37" height="32.52" fill="#fefdfc"/>
<rect x="1428.66" y="457.87" width="35.37" height="32.52" fill="#fcf9f8"/>
<rect x="1253.06" y="490.14" width="35.37" height="32.52" fill="#fefcfb"/>
<rect x="1323.30" y="490.14" width="35.37" height="32.52" fill="#fefefd"/>
<rect x="1358.42" y="490.14" width="35.37" height="32.52" fill="#fffefe"/>
<rect x="1393.54" y="490.14" width="35.37" height="32.52" fill="#fefcfc"/>
<rect x="1428.66" y="490.14" width="35.37" height="32.52" fill="#fbf5f4"/>
<rect x="1358.42" y="522.41" width="35.37" height="32.52" fill="#fbf6f5"/>
<rect x="1393.54" y="522.41" width="35.37" height="32.52" fill="#fefcfc"/>
<rect x="1428.66" y="522.41" width="35.37" height="32.52" fill="#fefdfd"/>
<rect x="1393.54" y="554.68" width="35.37" height="32.52" fill="#fefdfd"/>
<rect x="1428.66" y="554.68" width="35.37" height="32.52" fill="#fefdfd"/>
</g>
<text transform="translate(1107.86,132.94) scale(1.0300,1)" font-size="25.7" fill="#111" text-anchor="start" xml:space="preserve">L1</text>
<circle cx="1143.4" cy="119.04" r="0.95" fill="#5a5a5a"/>
<text transform="translate(1106.90,165.21) scale(1.0300,1)" font-size="25.7" fill="#111" text-anchor="start" xml:space="preserve">L2</text>
<circle cx="1143.4" cy="151.31" r="0.95" fill="#5a5a5a"/>
<text transform="translate(1106.73,197.48) scale(1.0300,1)" font-size="25.7" fill="#111" text-anchor="start" xml:space="preserve">L3</text>
<circle cx="1143.4" cy="183.58" r="0.95" fill="#5a5a5a"/>
<text transform="translate(1106.35,229.75) scale(1.0300,1)" font-size="25.7" fill="#111" text-anchor="start" xml:space="preserve">L4</text>
<circle cx="1143.4" cy="215.85" r="0.95" fill="#5a5a5a"/>
<text transform="translate(1106.68,262.01) scale(1.0300,1)" font-size="25.7" fill="#111" text-anchor="start" xml:space="preserve">L5</text>
<circle cx="1143.4" cy="248.12" r="0.95" fill="#5a5a5a"/>
<text transform="translate(1106.73,294.28) scale(1.0300,1)" font-size="25.7" fill="#111" text-anchor="start" xml:space="preserve">L6</text>
<circle cx="1143.4" cy="280.38" r="0.95" fill="#5a5a5a"/>
<text transform="translate(1106.90,326.56) scale(1.0300,1)" font-size="25.7" fill="#111" text-anchor="start" xml:space="preserve">L7</text>
<circle cx="1143.4" cy="312.66" r="0.95" fill="#5a5a5a"/>
<text transform="translate(1106.72,358.83) scale(1.0300,1)" font-size="25.7" fill="#111" text-anchor="start" xml:space="preserve">L8</text>
<circle cx="1143.4" cy="344.93" r="0.95" fill="#5a5a5a"/>
<text transform="translate(1106.82,391.10) scale(1.0300,1)" font-size="25.7" fill="#111" text-anchor="start" xml:space="preserve">L9</text>
<circle cx="1143.4" cy="377.20" r="0.95" fill="#5a5a5a"/>
<text transform="translate(1091.89,423.37) scale(1.0300,1)" font-size="25.7" fill="#111" text-anchor="start" xml:space="preserve">L10</text>
<circle cx="1143.4" cy="409.47" r="0.95" fill="#5a5a5a"/>
<text transform="translate(1095.11,455.63) scale(1.0300,1)" font-size="25.7" fill="#111" text-anchor="start" xml:space="preserve">L11</text>
<circle cx="1143.4" cy="441.74" r="0.95" fill="#5a5a5a"/>
<text transform="translate(1092.19,487.90) scale(1.0300,1)" font-size="25.7" fill="#111" text-anchor="start" xml:space="preserve">L12</text>
<circle cx="1143.4" cy="474.00" r="0.95" fill="#5a5a5a"/>
<text transform="translate(1092.02,520.18) scale(1.0300,1)" font-size="25.7" fill="#111" text-anchor="start" xml:space="preserve">L13</text>
<circle cx="1143.4" cy="506.28" r="0.95" fill="#5a5a5a"/>
<text transform="translate(1091.63,552.45) scale(1.0300,1)" font-size="25.7" fill="#111" text-anchor="start" xml:space="preserve">L14</text>
<circle cx="1143.4" cy="538.55" r="0.95" fill="#5a5a5a"/>
<text transform="translate(1091.97,584.72) scale(1.0300,1)" font-size="25.7" fill="#111" text-anchor="start" xml:space="preserve">L15</text>
<circle cx="1143.4" cy="570.82" r="0.95" fill="#5a5a5a"/>
<text transform="translate(1154.24,622.20) scale(1.0300,1)" font-size="24.3" fill="#111" text-anchor="start">1</text>
<text transform="translate(1189.99,622.20) scale(1.0300,1)" font-size="24.3" fill="#111" text-anchor="start">2</text>
<text transform="translate(1225.74,622.20) scale(1.0300,1)" font-size="24.3" fill="#111" text-anchor="start">3</text>
<text transform="translate(1261.49,622.20) scale(1.0300,1)" font-size="24.3" fill="#111" text-anchor="start">4</text>
<text transform="translate(1297.24,622.20) scale(1.0300,1)" font-size="24.3" fill="#111" text-anchor="start">5</text>
<text transform="translate(1332.99,622.20) scale(1.0300,1)" font-size="24.3" fill="#111" text-anchor="start">6</text>
<text transform="translate(1368.74,622.20) scale(1.0300,1)" font-size="24.3" fill="#111" text-anchor="start">7</text>
<text transform="translate(1404.49,622.20) scale(1.0300,1)" font-size="24.3" fill="#111" text-anchor="start">8</text>
<text transform="translate(1440.24,622.20) scale(1.0300,1)" font-size="24.3" fill="#111" text-anchor="start">9</text>
<text transform="translate(1225.32,661.10) scale(1.0427,1)" font-size="30.6" fill="#111" text-anchor="start" xml:space="preserve">time (days)</text>
<text transform="translate(1078.00,425.35) rotate(-90) scale(0.9994,1)" font-size="32" fill="#111" xml:space="preserve">leaf stage</text>
<defs><linearGradient id="lgb" x1="0" x2="1" y1="0" y2="0"><stop offset="0.00" stop-color="#ffffff"/><stop offset="0.05" stop-color="#faf3f1"/><stop offset="0.10" stop-color="#f4e7e3"/><stop offset="0.15" stop-color="#efdbd6"/><stop offset="0.20" stop-color="#e9cfc8"/><stop offset="0.25" stop-color="#e3c4bb"/><stop offset="0.30" stop-color="#ddb8ae"/><stop offset="0.35" stop-color="#d7ada1"/><stop offset="0.40" stop-color="#d0a194"/><stop offset="0.45" stop-color="#ca9688"/><stop offset="0.50" stop-color="#c38b7b"/><stop offset="0.55" stop-color="#bc806f"/><stop offset="0.60" stop-color="#b67564"/><stop offset="0.65" stop-color="#b16b5a"/><stop offset="0.70" stop-color="#ad6051"/><stop offset="0.75" stop-color="#a75647"/><stop offset="0.80" stop-color="#a24b3e"/><stop offset="0.85" stop-color="#9d4135"/><stop offset="0.90" stop-color="#97352c"/><stop offset="0.95" stop-color="#912923"/><stop offset="1.00" stop-color="#8b1b1b"/></linearGradient>
<linearGradient id="lgc" x1="0" x2="1" y1="0" y2="0"><stop offset="0.00" stop-color="#ffffff"/><stop offset="0.05" stop-color="#f4f1f9"/><stop offset="0.10" stop-color="#e9e4f2"/><stop offset="0.15" stop-color="#ded6ec"/><stop offset="0.20" stop-color="#d4c9e6"/><stop offset="0.25" stop-color="#c9bce0"/><stop offset="0.30" stop-color="#beafd9"/><stop offset="0.35" stop-color="#b3a2d3"/><stop offset="0.40" stop-color="#a895cd"/><stop offset="0.45" stop-color="#9d88c6"/><stop offset="0.50" stop-color="#927cc0"/><stop offset="0.55" stop-color="#8a73bc"/><stop offset="0.60" stop-color="#816ab7"/><stop offset="0.65" stop-color="#7860b3"/><stop offset="0.70" stop-color="#6f57af"/><stop offset="0.75" stop-color="#664fab"/><stop offset="0.80" stop-color="#5c48a7"/><stop offset="0.85" stop-color="#5241a3"/><stop offset="0.90" stop-color="#473b9f"/><stop offset="0.95" stop-color="#403897"/><stop offset="1.00" stop-color="#3c388c"/></linearGradient></defs>
<rect x="1326.2" y="58.8" width="90.6" height="25.2" fill="url(#lgb)"/>
<path d="M1347.8,58.8v4.6M1347.8,79.4v4.6" stroke="#fff" stroke-opacity="0.5" stroke-width="0.9"/>
<path d="M1369.0,58.8v4.6M1369.0,79.4v4.6" stroke="#fff" stroke-opacity="0.5" stroke-width="0.9"/>
<path d="M1390.7,58.8v4.6M1390.7,79.4v4.6" stroke="#fff" stroke-opacity="0.5" stroke-width="0.9"/>
<path d="M1412.6,58.8v4.6M1412.6,79.4v4.6" stroke="#fff" stroke-opacity="0.5" stroke-width="0.9"/>
<text transform="translate(1203.02,82.10) scale(0.9432,1)" font-size="30.8" fill="#b5201f" text-anchor="start" xml:space="preserve">KMD1</text>
<text transform="translate(1300.04,80.70) scale(1.0198,1)" font-size="24.0" fill="#111" text-anchor="start" xml:space="preserve">0</text>
<text transform="translate(1423.32,80.70) scale(1.0300,1)" font-size="24.0" fill="#111" text-anchor="start" xml:space="preserve">100</text>
<g shape-rendering="crispEdges">
<rect x="1253.16" y="788.75" width="35.67" height="32.54" fill="#f5f2f9"/>
<rect x="1324.00" y="788.75" width="35.67" height="32.54" fill="#f9f8fc"/>
<rect x="1359.42" y="788.75" width="35.67" height="32.54" fill="#f6f4fa"/>
<rect x="1253.16" y="853.33" width="35.67" height="32.54" fill="#f2eff8"/>
<rect x="1359.42" y="853.33" width="35.67" height="32.54" fill="#efebf6"/>
<rect x="1430.26" y="853.33" width="35.67" height="32.54" fill="#b9a9d6"/>
<rect x="1146.90" y="885.62" width="35.67" height="32.54" fill="#d2c7e5"/>
<rect x="1217.74" y="885.62" width="35.67" height="32.54" fill="#947ec1"/>
<rect x="1253.16" y="885.62" width="35.67" height="32.54" fill="#d1c6e4"/>
<rect x="1288.58" y="885.62" width="35.67" height="32.54" fill="#8f79bf"/>
<rect x="1324.00" y="885.62" width="35.67" height="32.54" fill="#f7f5fa"/>
<rect x="1359.42" y="885.62" width="35.67" height="32.54" fill="#8871bb"/>
<rect x="1394.84" y="885.62" width="35.67" height="32.54" fill="#f6f4fa"/>
<rect x="1430.26" y="885.62" width="35.67" height="32.54" fill="#f1eef7"/>
<rect x="1182.32" y="917.91" width="35.67" height="32.54" fill="#bfafda"/>
<rect x="1253.16" y="917.91" width="35.67" height="32.54" fill="#f8f6fb"/>
<rect x="1288.58" y="917.91" width="35.67" height="32.54" fill="#dcd4eb"/>
<rect x="1359.42" y="917.91" width="35.67" height="32.54" fill="#f7f6fb"/>
<rect x="1394.84" y="917.91" width="35.67" height="32.54" fill="#e7e0f1"/>
<rect x="1430.26" y="917.91" width="35.67" height="32.54" fill="#f1eef7"/>
<rect x="1146.90" y="950.20" width="35.67" height="32.54" fill="#eae4f3"/>
<rect x="1217.74" y="950.20" width="35.67" height="32.54" fill="#efebf6"/>
<rect x="1253.16" y="950.20" width="35.67" height="32.54" fill="#eeeaf5"/>
<rect x="1359.42" y="950.20" width="35.67" height="32.54" fill="#eae5f3"/>
<rect x="1394.84" y="950.20" width="35.67" height="32.54" fill="#e5dff0"/>
<rect x="1430.26" y="950.20" width="35.67" height="32.54" fill="#d0c5e4"/>
<rect x="1146.90" y="982.49" width="35.67" height="32.54" fill="#937ec1"/>
<rect x="1182.32" y="982.49" width="35.67" height="32.54" fill="#beafd9"/>
<rect x="1217.74" y="982.49" width="35.67" height="32.54" fill="#ccbfe1"/>
<rect x="1253.16" y="982.49" width="35.67" height="32.54" fill="#d6cbe7"/>
<rect x="1288.58" y="982.49" width="35.67" height="32.54" fill="#ded6ec"/>
<rect x="1324.00" y="982.49" width="35.67" height="32.54" fill="#e8e1f1"/>
<rect x="1359.42" y="982.49" width="35.67" height="32.54" fill="#d2c7e5"/>
<rect x="1394.84" y="982.49" width="35.67" height="32.54" fill="#ebe6f4"/>
<rect x="1430.26" y="982.49" width="35.67" height="32.54" fill="#f1edf7"/>
<rect x="1146.90" y="1014.78" width="35.67" height="32.54" fill="#c2b3dc"/>
<rect x="1182.32" y="1014.78" width="35.67" height="32.54" fill="#bdaed9"/>
<rect x="1217.74" y="1014.78" width="35.67" height="32.54" fill="#d6cce8"/>
<rect x="1253.16" y="1014.78" width="35.67" height="32.54" fill="#d3c8e5"/>
<rect x="1288.58" y="1014.78" width="35.67" height="32.54" fill="#f8f6fb"/>
<rect x="1324.00" y="1014.78" width="35.67" height="32.54" fill="#e5def0"/>
<rect x="1359.42" y="1014.78" width="35.67" height="32.54" fill="#bfb0da"/>
<rect x="1394.84" y="1014.78" width="35.67" height="32.54" fill="#f9f7fb"/>
<rect x="1430.26" y="1014.78" width="35.67" height="32.54" fill="#f0ecf7"/>
<rect x="1146.90" y="1047.07" width="35.67" height="32.54" fill="#ccbfe1"/>
<rect x="1182.32" y="1047.07" width="35.67" height="32.54" fill="#846db9"/>
<rect x="1217.74" y="1047.07" width="35.67" height="32.54" fill="#b4a3d4"/>
<rect x="1253.16" y="1047.07" width="35.67" height="32.54" fill="#bcacd8"/>
<rect x="1288.58" y="1047.07" width="35.67" height="32.54" fill="#d2c7e5"/>
<rect x="1324.00" y="1047.07" width="35.67" height="32.54" fill="#c8badf"/>
<rect x="1394.84" y="1047.07" width="35.67" height="32.54" fill="#d4cae6"/>
<rect x="1430.26" y="1047.07" width="35.67" height="32.54" fill="#e7e1f1"/>
<rect x="1146.90" y="1079.36" width="35.67" height="32.54" fill="#866fba"/>
<rect x="1182.32" y="1079.36" width="35.67" height="32.54" fill="#6b53ad"/>
<rect x="1217.74" y="1079.36" width="35.67" height="32.54" fill="#907abf"/>
<rect x="1253.16" y="1079.36" width="35.67" height="32.54" fill="#b6a5d5"/>
<rect x="1288.58" y="1079.36" width="35.67" height="32.54" fill="#baaad7"/>
<rect x="1324.00" y="1079.36" width="35.67" height="32.54" fill="#e8e2f2"/>
<rect x="1359.42" y="1079.36" width="35.67" height="32.54" fill="#b7a7d5"/>
<rect x="1394.84" y="1079.36" width="35.67" height="32.54" fill="#bcadd8"/>
<rect x="1430.26" y="1079.36" width="35.67" height="32.54" fill="#e6e0f1"/>
<rect x="1146.90" y="1111.65" width="35.67" height="32.54" fill="#8b75bd"/>
<rect x="1182.32" y="1111.65" width="35.67" height="32.54" fill="#3f3895"/>
<rect x="1217.74" y="1111.65" width="35.67" height="32.54" fill="#614ca9"/>
<rect x="1253.16" y="1111.65" width="35.67" height="32.54" fill="#846db9"/>
<rect x="1288.58" y="1111.65" width="35.67" height="32.54" fill="#b4a3d4"/>
<rect x="1324.00" y="1111.65" width="35.67" height="32.54" fill="#d8cfe9"/>
<rect x="1359.42" y="1111.65" width="35.67" height="32.54" fill="#d3c8e5"/>
<rect x="1394.84" y="1111.65" width="35.67" height="32.54" fill="#faf8fc"/>
<rect x="1430.26" y="1111.65" width="35.67" height="32.54" fill="#f4f1f9"/>
<rect x="1182.32" y="1143.94" width="35.67" height="32.54" fill="#6a52ac"/>
<rect x="1217.74" y="1143.94" width="35.67" height="32.54" fill="#3c388c"/>
<rect x="1253.16" y="1143.94" width="35.67" height="32.54" fill="#41389a"/>
<rect x="1288.58" y="1143.94" width="35.67" height="32.54" fill="#a490ca"/>
<rect x="1324.00" y="1143.94" width="35.67" height="32.54" fill="#bfb0da"/>
<rect x="1359.42" y="1143.94" width="35.67" height="32.54" fill="#b8a8d6"/>
<rect x="1394.84" y="1143.94" width="35.67" height="32.54" fill="#e2daee"/>
<rect x="1430.26" y="1143.94" width="35.67" height="32.54" fill="#c8badf"/>
<rect x="1253.16" y="1176.23" width="35.67" height="32.54" fill="#453a9f"/>
<rect x="1288.58" y="1176.23" width="35.67" height="32.54" fill="#7058af"/>
<rect x="1324.00" y="1176.23" width="35.67" height="32.54" fill="#b8a8d6"/>
<rect x="1359.42" y="1176.23" width="35.67" height="32.54" fill="#d8cee8"/>
<rect x="1394.84" y="1176.23" width="35.67" height="32.54" fill="#b09fd2"/>
<rect x="1430.26" y="1176.23" width="35.67" height="32.54" fill="#bfb1da"/>
<rect x="1324.00" y="1208.52" width="35.67" height="32.54" fill="#a28ec9"/>
<rect x="1359.42" y="1208.52" width="35.67" height="32.54" fill="#a28ec9"/>
<rect x="1394.84" y="1208.52" width="35.67" height="32.54" fill="#6750ab"/>
<rect x="1430.26" y="1208.52" width="35.67" height="32.54" fill="#8a74bc"/>
<rect x="1394.84" y="1240.81" width="35.67" height="32.54" fill="#6b53ac"/>
<rect x="1430.26" y="1240.81" width="35.67" height="32.54" fill="#654faa"/>
</g>
<text transform="translate(1107.86,822.89) scale(1.0300,1)" font-size="25.7" fill="#111" text-anchor="start" xml:space="preserve">L1</text>
<circle cx="1143.4" cy="804.89" r="0.95" fill="#5a5a5a"/>
<text transform="translate(1106.90,855.18) scale(1.0300,1)" font-size="25.7" fill="#111" text-anchor="start" xml:space="preserve">L2</text>
<circle cx="1143.4" cy="837.18" r="0.95" fill="#5a5a5a"/>
<text transform="translate(1106.73,887.48) scale(1.0300,1)" font-size="25.7" fill="#111" text-anchor="start" xml:space="preserve">L3</text>
<circle cx="1143.4" cy="869.48" r="0.95" fill="#5a5a5a"/>
<text transform="translate(1106.35,919.76) scale(1.0300,1)" font-size="25.7" fill="#111" text-anchor="start" xml:space="preserve">L4</text>
<circle cx="1143.4" cy="901.76" r="0.95" fill="#5a5a5a"/>
<text transform="translate(1106.68,952.06) scale(1.0300,1)" font-size="25.7" fill="#111" text-anchor="start" xml:space="preserve">L5</text>
<circle cx="1143.4" cy="934.06" r="0.95" fill="#5a5a5a"/>
<text transform="translate(1106.73,984.35) scale(1.0300,1)" font-size="25.7" fill="#111" text-anchor="start" xml:space="preserve">L6</text>
<circle cx="1143.4" cy="966.35" r="0.95" fill="#5a5a5a"/>
<text transform="translate(1106.90,1016.63) scale(1.0300,1)" font-size="25.7" fill="#111" text-anchor="start" xml:space="preserve">L7</text>
<circle cx="1143.4" cy="998.63" r="0.95" fill="#5a5a5a"/>
<text transform="translate(1106.72,1048.92) scale(1.0300,1)" font-size="25.7" fill="#111" text-anchor="start" xml:space="preserve">L8</text>
<circle cx="1143.4" cy="1030.92" r="0.95" fill="#5a5a5a"/>
<text transform="translate(1106.82,1081.21) scale(1.0300,1)" font-size="25.7" fill="#111" text-anchor="start" xml:space="preserve">L9</text>
<circle cx="1143.4" cy="1063.21" r="0.95" fill="#5a5a5a"/>
<text transform="translate(1091.89,1113.51) scale(1.0300,1)" font-size="25.7" fill="#111" text-anchor="start" xml:space="preserve">L10</text>
<circle cx="1143.4" cy="1095.51" r="0.95" fill="#5a5a5a"/>
<text transform="translate(1095.11,1145.80) scale(1.0300,1)" font-size="25.7" fill="#111" text-anchor="start" xml:space="preserve">L11</text>
<circle cx="1143.4" cy="1127.80" r="0.95" fill="#5a5a5a"/>
<text transform="translate(1092.19,1178.09) scale(1.0300,1)" font-size="25.7" fill="#111" text-anchor="start" xml:space="preserve">L12</text>
<circle cx="1143.4" cy="1160.09" r="0.95" fill="#5a5a5a"/>
<text transform="translate(1092.02,1210.38) scale(1.0300,1)" font-size="25.7" fill="#111" text-anchor="start" xml:space="preserve">L13</text>
<circle cx="1143.4" cy="1192.38" r="0.95" fill="#5a5a5a"/>
<text transform="translate(1091.63,1242.66) scale(1.0300,1)" font-size="25.7" fill="#111" text-anchor="start" xml:space="preserve">L14</text>
<circle cx="1143.4" cy="1224.66" r="0.95" fill="#5a5a5a"/>
<text transform="translate(1091.97,1274.95) scale(1.0300,1)" font-size="25.7" fill="#111" text-anchor="start" xml:space="preserve">L15</text>
<circle cx="1143.4" cy="1256.95" r="0.95" fill="#5a5a5a"/>
<text transform="translate(1154.24,1312.00) scale(1.0300,1)" font-size="24.3" fill="#111" text-anchor="start">1</text>
<text transform="translate(1189.99,1312.00) scale(1.0300,1)" font-size="24.3" fill="#111" text-anchor="start">2</text>
<text transform="translate(1225.74,1312.00) scale(1.0300,1)" font-size="24.3" fill="#111" text-anchor="start">3</text>
<text transform="translate(1261.49,1312.00) scale(1.0300,1)" font-size="24.3" fill="#111" text-anchor="start">4</text>
<text transform="translate(1297.24,1312.00) scale(1.0300,1)" font-size="24.3" fill="#111" text-anchor="start">5</text>
<text transform="translate(1332.99,1312.00) scale(1.0300,1)" font-size="24.3" fill="#111" text-anchor="start">6</text>
<text transform="translate(1368.74,1312.00) scale(1.0300,1)" font-size="24.3" fill="#111" text-anchor="start">7</text>
<text transform="translate(1404.49,1312.00) scale(1.0300,1)" font-size="24.3" fill="#111" text-anchor="start">8</text>
<text transform="translate(1440.24,1312.00) scale(1.0300,1)" font-size="24.3" fill="#111" text-anchor="start">9</text>
<text transform="translate(1225.32,1351.10) scale(1.0427,1)" font-size="30.6" fill="#111" text-anchor="start" xml:space="preserve">time (days)</text>
<text transform="translate(1078.00,1114.85) rotate(-90) scale(0.9971,1)" font-size="32" fill="#111" xml:space="preserve">leaf stage</text>
<rect x="1334.0" y="746.8" width="91.2" height="25.8" fill="url(#lgc)"/>
<path d="M1363.4,746.8v4.6M1363.4,768.0v4.6" stroke="#fff" stroke-opacity="0.5" stroke-width="0.9"/>
<path d="M1393.2,746.8v4.6M1393.2,768.0v4.6" stroke="#fff" stroke-opacity="0.5" stroke-width="0.9"/>
<path d="M1422.2,746.8v4.6M1422.2,768.0v4.6" stroke="#fff" stroke-opacity="0.5" stroke-width="0.9"/>
<text transform="translate(1168.11,771.20) scale(0.9527,1)" font-size="30.8" fill="#2f2a8e" text-anchor="start" xml:space="preserve">CYCD1;1</text>
<text transform="translate(1306.64,769.30) scale(1.0285,1)" font-size="24.0" fill="#111" text-anchor="start" xml:space="preserve">0</text>
<text transform="translate(1436.58,769.30) scale(1.0103,1)" font-size="24.0" fill="#111" text-anchor="start" xml:space="preserve">30</text>
<text transform="translate(1499.67,283.70) scale(1.0134,1)" font-size="26.2" fill="#111" text-anchor="start" xml:space="preserve">apply model</text>
<path d="M1525,301 C1570,303.5 1625,307 1644,311 C1654,313.5 1650,317 1637,319.5 C1622,322.5 1607,325 1608.5,329 C1610,333.5 1630,336 1649,339" fill="none" stroke="#1a1a1a" stroke-width="1.15" stroke-linecap="round"/>
<polygon points="1657.5,340.4 1648.0,344.5 1649.6,334.6" fill="#1a1a1a"/>
<text transform="translate(1499.67,1017.40) scale(1.0134,1)" font-size="26.2" fill="#111" text-anchor="start" xml:space="preserve">apply model</text>
<path d="M1525,1034.7 C1570,1037.2 1625,1040.7 1644,1044.7 C1654,1047.2 1650,1050.7 1637,1053.2 C1622,1056.2 1607,1058.7 1608.5,1062.7 C1610,1067.2 1630,1069.7 1649,1072.7" fill="none" stroke="#1a1a1a" stroke-width="1.15" stroke-linecap="round"/>
<polygon points="1657.5,1074.1 1648.0,1078.2 1649.6,1068.3000000000002" fill="#1a1a1a"/>
<rect x="1796.9" y="77.8" width="364.40" height="489.00" fill="#fff"/>
<path d="M1868.05,77.8V566.8M1978.75,77.8V566.8M2089.45,77.8V566.8M1796.9,491.95H2161.3M1796.9,385.65H2161.3M1796.9,279.35H2161.3M1796.9,173.05H2161.3" stroke="#ededed" stroke-width="0.9" fill="none"/>
<path d="M1812.70,77.8V566.8M1923.40,77.8V566.8M2034.10,77.8V566.8M2144.80,77.8V566.8M1796.9,545.10H2161.3M1796.9,438.80H2161.3M1796.9,332.50H2161.3M1796.9,226.20H2161.3M1796.9,119.90H2161.3" stroke="#e4e4e4" stroke-width="1.4" fill="none"/>
<circle cx="1812.70" cy="538.72" r="2.85" fill="#7a1a14"/>
<circle cx="1812.70" cy="541.27" r="2.85" fill="#7a1a14"/>
<circle cx="1812.70" cy="545.10" r="2.85" fill="#7a1a14"/>
<circle cx="1823.77" cy="529.37" r="2.85" fill="#7a1a14"/>
<circle cx="1823.77" cy="541.27" r="2.85" fill="#7a1a14"/>
<circle cx="1823.77" cy="544.67" r="2.85" fill="#7a1a14"/>
<circle cx="1834.84" cy="540.00" r="2.85" fill="#7a1a14"/>
<circle cx="1834.84" cy="542.55" r="2.85" fill="#7a1a14"/>
<circle cx="1834.84" cy="545.10" r="2.85" fill="#7a1a14"/>
<circle cx="1845.91" cy="541.27" r="2.85" fill="#7a1a14"/>
<circle cx="1845.91" cy="543.82" r="2.85" fill="#7a1a14"/>
<circle cx="1856.98" cy="536.60" r="2.85" fill="#7a1a14"/>
<circle cx="1856.98" cy="540.00" r="2.85" fill="#7a1a14"/>
<circle cx="1856.98" cy="543.82" r="2.85" fill="#7a1a14"/>
<circle cx="1868.05" cy="527.24" r="2.85" fill="#7a1a14"/>
<circle cx="1868.05" cy="533.19" r="2.85" fill="#7a1a14"/>
<circle cx="1868.05" cy="541.27" r="2.85" fill="#7a1a14"/>
<circle cx="1868.05" cy="544.67" r="2.85" fill="#7a1a14"/>
<circle cx="1879.12" cy="526.82" r="2.85" fill="#7a1a14"/>
<circle cx="1879.12" cy="540.85" r="2.85" fill="#7a1a14"/>
<circle cx="1879.12" cy="542.97" r="2.85" fill="#7a1a14"/>
<circle cx="1890.19" cy="513.64" r="2.85" fill="#7a1a14"/>
<circle cx="1890.19" cy="526.39" r="2.85" fill="#7a1a14"/>
<circle cx="1890.19" cy="533.19" r="2.85" fill="#7a1a14"/>
<circle cx="1890.19" cy="537.45" r="2.85" fill="#7a1a14"/>
<circle cx="1890.19" cy="545.10" r="2.85" fill="#7a1a14"/>
<circle cx="1901.26" cy="426.89" r="2.85" fill="#7a1a14"/>
<circle cx="1901.26" cy="508.53" r="2.85" fill="#7a1a14"/>
<circle cx="1901.26" cy="530.64" r="2.85" fill="#7a1a14"/>
<circle cx="1901.26" cy="545.10" r="2.85" fill="#7a1a14"/>
<circle cx="1912.33" cy="457.93" r="2.85" fill="#7a1a14"/>
<circle cx="1912.33" cy="490.67" r="2.85" fill="#7a1a14"/>
<circle cx="1912.33" cy="496.20" r="2.85" fill="#7a1a14"/>
<circle cx="1912.33" cy="533.19" r="2.85" fill="#7a1a14"/>
<circle cx="1912.33" cy="536.60" r="2.85" fill="#7a1a14"/>
<circle cx="1923.40" cy="477.92" r="2.85" fill="#7a1a14"/>
<circle cx="1923.40" cy="526.39" r="2.85" fill="#7a1a14"/>
<circle cx="1923.40" cy="531.92" r="2.85" fill="#7a1a14"/>
<circle cx="1923.40" cy="536.60" r="2.85" fill="#7a1a14"/>
<circle cx="1934.47" cy="460.06" r="2.85" fill="#7a1a14"/>
<circle cx="1934.47" cy="472.39" r="2.85" fill="#7a1a14"/>
<circle cx="1934.47" cy="497.48" r="2.85" fill="#7a1a14"/>
<circle cx="1934.47" cy="521.71" r="2.85" fill="#7a1a14"/>
<circle cx="1934.47" cy="537.45" r="2.85" fill="#7a1a14"/>
<circle cx="1945.54" cy="476.64" r="2.85" fill="#7a1a14"/>
<circle cx="1945.54" cy="491.52" r="2.85" fill="#7a1a14"/>
<circle cx="1945.54" cy="500.88" r="2.85" fill="#7a1a14"/>
<circle cx="1945.54" cy="530.22" r="2.85" fill="#7a1a14"/>
<circle cx="1956.61" cy="419.67" r="2.85" fill="#7a1a14"/>
<circle cx="1956.61" cy="480.89" r="2.85" fill="#7a1a14"/>
<circle cx="1956.61" cy="482.60" r="2.85" fill="#7a1a14"/>
<circle cx="1956.61" cy="536.60" r="2.85" fill="#7a1a14"/>
<circle cx="1956.61" cy="545.10" r="2.85" fill="#7a1a14"/>
<circle cx="1967.68" cy="409.04" r="2.85" fill="#7a1a14"/>
<circle cx="1967.68" cy="462.19" r="2.85" fill="#7a1a14"/>
<circle cx="1967.68" cy="504.71" r="2.85" fill="#7a1a14"/>
<circle cx="1967.68" cy="545.10" r="2.85" fill="#7a1a14"/>
<circle cx="1978.75" cy="430.30" r="2.85" fill="#7a1a14"/>
<circle cx="1978.75" cy="433.70" r="2.85" fill="#7a1a14"/>
<circle cx="1978.75" cy="463.04" r="2.85" fill="#7a1a14"/>
<circle cx="1978.75" cy="480.04" r="2.85" fill="#7a1a14"/>
<circle cx="1978.75" cy="490.67" r="2.85" fill="#7a1a14"/>
<circle cx="1989.82" cy="440.93" r="2.85" fill="#7a1a14"/>
<circle cx="1989.82" cy="454.53" r="2.85" fill="#7a1a14"/>
<circle cx="2000.89" cy="350.36" r="2.85" fill="#7a1a14"/>
<circle cx="2000.89" cy="426.89" r="2.85" fill="#7a1a14"/>
<circle cx="2000.89" cy="439.65" r="2.85" fill="#7a1a14"/>
<circle cx="2000.89" cy="454.53" r="2.85" fill="#7a1a14"/>
<circle cx="2000.89" cy="545.10" r="2.85" fill="#7a1a14"/>
<circle cx="2011.96" cy="284.03" r="2.85" fill="#7a1a14"/>
<circle cx="2011.96" cy="446.03" r="2.85" fill="#7a1a14"/>
<circle cx="2011.96" cy="465.59" r="2.85" fill="#7a1a14"/>
<circle cx="2011.96" cy="476.22" r="2.85" fill="#7a1a14"/>
<circle cx="2023.03" cy="99.92" r="2.85" fill="#7a1a14"/>
<circle cx="2023.03" cy="324.00" r="2.85" fill="#7a1a14"/>
<circle cx="2023.03" cy="395.43" r="2.85" fill="#7a1a14"/>
<circle cx="2023.03" cy="410.74" r="2.85" fill="#7a1a14"/>
<circle cx="2023.03" cy="477.07" r="2.85" fill="#7a1a14"/>
<circle cx="2034.10" cy="400.11" r="2.85" fill="#7a1a14"/>
<circle cx="2034.10" cy="404.78" r="2.85" fill="#7a1a14"/>
<circle cx="2034.10" cy="442.63" r="2.85" fill="#7a1a14"/>
<circle cx="2034.10" cy="467.71" r="2.85" fill="#7a1a14"/>
<circle cx="2045.17" cy="384.37" r="2.85" fill="#7a1a14"/>
<circle cx="2045.17" cy="397.98" r="2.85" fill="#7a1a14"/>
<circle cx="2045.17" cy="420.52" r="2.85" fill="#7a1a14"/>
<circle cx="2045.17" cy="467.71" r="2.85" fill="#7a1a14"/>
<circle cx="2045.17" cy="545.10" r="2.85" fill="#7a1a14"/>
<circle cx="2056.24" cy="286.58" r="2.85" fill="#7a1a14"/>
<circle cx="2056.24" cy="372.89" r="2.85" fill="#7a1a14"/>
<circle cx="2056.24" cy="390.33" r="2.85" fill="#7a1a14"/>
<circle cx="2056.24" cy="432.85" r="2.85" fill="#7a1a14"/>
<circle cx="2067.31" cy="241.08" r="2.85" fill="#7a1a14"/>
<circle cx="2067.31" cy="338.88" r="2.85" fill="#7a1a14"/>
<circle cx="2067.31" cy="437.10" r="2.85" fill="#7a1a14"/>
<circle cx="2067.31" cy="545.10" r="2.85" fill="#7a1a14"/>
<circle cx="2078.38" cy="390.75" r="2.85" fill="#7a1a14"/>
<circle cx="2078.38" cy="402.66" r="2.85" fill="#7a1a14"/>
<circle cx="2078.38" cy="408.19" r="2.85" fill="#7a1a14"/>
<circle cx="2089.45" cy="319.74" r="2.85" fill="#7a1a14"/>
<circle cx="2089.45" cy="360.99" r="2.85" fill="#7a1a14"/>
<circle cx="2089.45" cy="545.10" r="2.85" fill="#7a1a14"/>
<circle cx="2100.52" cy="437.10" r="2.85" fill="#7a1a14"/>
<circle cx="2100.52" cy="545.10" r="2.85" fill="#7a1a14"/>
<circle cx="2111.59" cy="234.28" r="2.85" fill="#7a1a14"/>
<circle cx="2111.59" cy="426.04" r="2.85" fill="#7a1a14"/>
<circle cx="2122.66" cy="351.21" r="2.85" fill="#7a1a14"/>
<circle cx="2133.73" cy="471.54" r="2.85" fill="#7a1a14"/>
<rect x="1796.9" y="77.8" width="364.40" height="489.00" fill="none" stroke="#454545" stroke-width="1.4"/>
<text transform="translate(1806.69,591.00) scale(1.0400,1)" font-size="20.8" fill="#4d4d4d" text-anchor="start" xml:space="preserve">0</text>
<text transform="translate(1910.97,591.00) scale(1.0400,1)" font-size="20.8" fill="#4d4d4d" text-anchor="start" xml:space="preserve">10</text>
<text transform="translate(2021.95,591.00) scale(1.0400,1)" font-size="20.8" fill="#4d4d4d" text-anchor="start" xml:space="preserve">20</text>
<text transform="translate(2132.78,591.00) scale(1.0400,1)" font-size="20.8" fill="#4d4d4d" text-anchor="start" xml:space="preserve">30</text>
<text transform="translate(1776.12,552.85) scale(1.0400,1)" font-size="20.8" fill="#4d4d4d" text-anchor="start" xml:space="preserve">0</text>
<text transform="translate(1764.15,446.55) scale(1.0400,1)" font-size="20.8" fill="#4d4d4d" text-anchor="start" xml:space="preserve">25</text>
<text transform="translate(1764.09,340.25) scale(1.0400,1)" font-size="20.8" fill="#4d4d4d" text-anchor="start" xml:space="preserve">50</text>
<text transform="translate(1764.15,233.95) scale(1.0400,1)" font-size="20.8" fill="#4d4d4d" text-anchor="start" xml:space="preserve">75</text>
<text transform="translate(1752.06,127.65) scale(1.0400,1)" font-size="20.8" fill="#4d4d4d" text-anchor="start" xml:space="preserve">100</text>
<path d="M1812.70,566.8v4.9M1923.40,566.8v4.9M2034.10,566.8v4.9M2144.80,566.8v4.9M1796.9,545.10h-4.9M1796.9,438.80h-4.9M1796.9,332.50h-4.9M1796.9,226.20h-4.9M1796.9,119.90h-4.9" stroke="#3c3c3c" stroke-width="1.25" fill="none"/>
<text transform="translate(1883.23,57.20) scale(1.0372,1)" font-size="32.6" fill="#b5201f" text-anchor="start" xml:space="preserve">KMD1 expression</text>
<text transform="translate(1798.23,634.10) scale(1.0373,1)" font-size="28.6" fill="#111" text-anchor="start" xml:space="preserve">normalized leaf age (days)</text>
<text transform="translate(1804.71,674.60) scale(1.0602,1)" font-size="28.0" fill="#8a8a8a" text-anchor="start" xml:space="preserve">23 + <tspan fill="#72c995">day</tspan> - (<tspan fill="#8c7cc4">leaf stage</tspan> × 2)</text>
<text transform="translate(1732.90,516.83) rotate(-90) scale(1.0390,1)" font-size="32.3" fill="#111" xml:space="preserve">normalized  read counts</text>
<rect x="1781.6" y="796.7" width="381.90" height="497.50" fill="#fff"/>
<path d="M1856.34,796.7V1294.2M1972.40,796.7V1294.2M2088.47,796.7V1294.2M1781.6,1199.38H2163.5M1781.6,1052.92H2163.5M1781.6,906.47H2163.5" stroke="#ededed" stroke-width="0.9" fill="none"/>
<path d="M1798.30,796.7V1294.2M1914.37,796.7V1294.2M2030.44,796.7V1294.2M2146.51,796.7V1294.2M1781.6,1272.60H2163.5M1781.6,1126.15H2163.5M1781.6,979.70H2163.5M1781.6,833.25H2163.5" stroke="#e4e4e4" stroke-width="1.4" fill="none"/>
<circle cx="1798.30" cy="861.08" r="2.85" fill="#33287f"/>
<circle cx="1798.30" cy="940.16" r="2.85" fill="#33287f"/>
<circle cx="1798.30" cy="943.09" r="2.85" fill="#33287f"/>
<circle cx="1798.30" cy="1079.29" r="2.85" fill="#33287f"/>
<circle cx="1809.91" cy="818.60" r="2.85" fill="#33287f"/>
<circle cx="1809.91" cy="929.91" r="2.85" fill="#33287f"/>
<circle cx="1809.91" cy="956.27" r="2.85" fill="#33287f"/>
<circle cx="1809.91" cy="1028.03" r="2.85" fill="#33287f"/>
<circle cx="1809.91" cy="1078.26" r="2.85" fill="#33287f"/>
<circle cx="1821.51" cy="836.18" r="2.85" fill="#33287f"/>
<circle cx="1821.51" cy="846.43" r="2.85" fill="#33287f"/>
<circle cx="1821.51" cy="934.89" r="2.85" fill="#33287f"/>
<circle cx="1821.51" cy="1124.69" r="2.85" fill="#33287f"/>
<circle cx="1833.12" cy="920.39" r="2.85" fill="#33287f"/>
<circle cx="1833.12" cy="1012.65" r="2.85" fill="#33287f"/>
<circle cx="1833.12" cy="1025.10" r="2.85" fill="#33287f"/>
<circle cx="1833.12" cy="1082.65" r="2.85" fill="#33287f"/>
<circle cx="1833.12" cy="1190.59" r="2.85" fill="#33287f"/>
<circle cx="1844.73" cy="944.55" r="2.85" fill="#33287f"/>
<circle cx="1844.73" cy="1008.11" r="2.85" fill="#33287f"/>
<circle cx="1844.73" cy="1108.58" r="2.85" fill="#33287f"/>
<circle cx="1844.73" cy="1139.33" r="2.85" fill="#33287f"/>
<circle cx="1856.34" cy="1039.74" r="2.85" fill="#33287f"/>
<circle cx="1856.34" cy="1116.78" r="2.85" fill="#33287f"/>
<circle cx="1856.34" cy="1124.69" r="2.85" fill="#33287f"/>
<circle cx="1856.34" cy="1139.77" r="2.85" fill="#33287f"/>
<circle cx="1856.34" cy="1165.69" r="2.85" fill="#33287f"/>
<circle cx="1867.94" cy="1008.11" r="2.85" fill="#33287f"/>
<circle cx="1867.94" cy="1119.56" r="2.85" fill="#33287f"/>
<circle cx="1867.94" cy="1192.05" r="2.85" fill="#33287f"/>
<circle cx="1867.94" cy="1211.09" r="2.85" fill="#33287f"/>
<circle cx="1879.55" cy="1116.78" r="2.85" fill="#33287f"/>
<circle cx="1879.55" cy="1129.08" r="2.85" fill="#33287f"/>
<circle cx="1879.55" cy="1144.46" r="2.85" fill="#33287f"/>
<circle cx="1879.55" cy="1156.90" r="2.85" fill="#33287f"/>
<circle cx="1879.55" cy="1180.34" r="2.85" fill="#33287f"/>
<circle cx="1891.16" cy="1132.01" r="2.85" fill="#33287f"/>
<circle cx="1891.16" cy="1134.94" r="2.85" fill="#33287f"/>
<circle cx="1891.16" cy="1224.86" r="2.85" fill="#33287f"/>
<circle cx="1891.16" cy="1261.32" r="2.85" fill="#33287f"/>
<circle cx="1902.76" cy="1048.53" r="2.85" fill="#33287f"/>
<circle cx="1902.76" cy="1122.20" r="2.85" fill="#33287f"/>
<circle cx="1902.76" cy="1179.31" r="2.85" fill="#33287f"/>
<circle cx="1902.76" cy="1187.66" r="2.85" fill="#33287f"/>
<circle cx="1902.76" cy="1249.17" r="2.85" fill="#33287f"/>
<circle cx="1914.37" cy="1133.47" r="2.85" fill="#33287f"/>
<circle cx="1914.37" cy="1136.40" r="2.85" fill="#33287f"/>
<circle cx="1914.37" cy="1156.90" r="2.85" fill="#33287f"/>
<circle cx="1914.37" cy="1180.34" r="2.85" fill="#33287f"/>
<circle cx="1925.98" cy="1165.69" r="2.85" fill="#33287f"/>
<circle cx="1925.98" cy="1220.76" r="2.85" fill="#33287f"/>
<circle cx="1925.98" cy="1227.79" r="2.85" fill="#33287f"/>
<circle cx="1925.98" cy="1257.95" r="2.85" fill="#33287f"/>
<circle cx="1925.98" cy="1272.60" r="2.85" fill="#33287f"/>
<circle cx="1937.58" cy="1183.27" r="2.85" fill="#33287f"/>
<circle cx="1937.58" cy="1186.19" r="2.85" fill="#33287f"/>
<circle cx="1937.58" cy="1218.41" r="2.85" fill="#33287f"/>
<circle cx="1937.58" cy="1272.60" r="2.85" fill="#33287f"/>
<circle cx="1949.19" cy="1139.33" r="2.85" fill="#33287f"/>
<circle cx="1949.19" cy="1203.77" r="2.85" fill="#33287f"/>
<circle cx="1949.19" cy="1222.81" r="2.85" fill="#33287f"/>
<circle cx="1949.19" cy="1239.65" r="2.85" fill="#33287f"/>
<circle cx="1949.19" cy="1272.60" r="2.85" fill="#33287f"/>
<circle cx="1960.80" cy="1137.87" r="2.85" fill="#33287f"/>
<circle cx="1960.80" cy="1223.54" r="2.85" fill="#33287f"/>
<circle cx="1960.80" cy="1238.04" r="2.85" fill="#33287f"/>
<circle cx="1960.80" cy="1259.42" r="2.85" fill="#33287f"/>
<circle cx="1972.40" cy="1178.87" r="2.85" fill="#33287f"/>
<circle cx="1972.40" cy="1241.85" r="2.85" fill="#33287f"/>
<circle cx="1972.40" cy="1272.60" r="2.85" fill="#33287f"/>
<circle cx="1984.01" cy="1231.01" r="2.85" fill="#33287f"/>
<circle cx="1984.01" cy="1257.08" r="2.85" fill="#33287f"/>
<circle cx="1984.01" cy="1272.60" r="2.85" fill="#33287f"/>
<circle cx="1995.62" cy="1050.00" r="2.85" fill="#33287f"/>
<circle cx="1995.62" cy="1200.25" r="2.85" fill="#33287f"/>
<circle cx="1995.62" cy="1228.66" r="2.85" fill="#33287f"/>
<circle cx="1995.62" cy="1243.31" r="2.85" fill="#33287f"/>
<circle cx="1995.62" cy="1272.60" r="2.85" fill="#33287f"/>
<circle cx="2007.23" cy="1176.68" r="2.85" fill="#33287f"/>
<circle cx="2007.23" cy="1218.85" r="2.85" fill="#33287f"/>
<circle cx="2007.23" cy="1272.60" r="2.85" fill="#33287f"/>
<circle cx="2018.83" cy="1038.28" r="2.85" fill="#33287f"/>
<circle cx="2018.83" cy="1174.48" r="2.85" fill="#33287f"/>
<circle cx="2018.83" cy="1256.93" r="2.85" fill="#33287f"/>
<circle cx="2018.83" cy="1272.60" r="2.85" fill="#33287f"/>
<circle cx="2030.44" cy="1221.78" r="2.85" fill="#33287f"/>
<circle cx="2030.44" cy="1246.24" r="2.85" fill="#33287f"/>
<circle cx="2030.44" cy="1255.61" r="2.85" fill="#33287f"/>
<circle cx="2030.44" cy="1272.60" r="2.85" fill="#33287f"/>
<circle cx="2042.05" cy="1017.78" r="2.85" fill="#33287f"/>
<circle cx="2042.05" cy="1244.04" r="2.85" fill="#33287f"/>
<circle cx="2042.05" cy="1272.60" r="2.85" fill="#33287f"/>
<circle cx="2053.65" cy="1254.29" r="2.85" fill="#33287f"/>
<circle cx="2053.65" cy="1272.60" r="2.85" fill="#33287f"/>
<circle cx="2065.26" cy="1238.92" r="2.85" fill="#33287f"/>
<circle cx="2065.26" cy="1244.04" r="2.85" fill="#33287f"/>
<circle cx="2065.26" cy="1272.60" r="2.85" fill="#33287f"/>
<circle cx="2076.87" cy="1251.36" r="2.85" fill="#33287f"/>
<circle cx="2076.87" cy="1272.60" r="2.85" fill="#33287f"/>
<circle cx="2088.47" cy="1126.15" r="2.85" fill="#33287f"/>
<circle cx="2088.47" cy="1272.60" r="2.85" fill="#33287f"/>
<circle cx="2100.08" cy="1260.30" r="2.85" fill="#33287f"/>
<circle cx="2100.08" cy="1272.60" r="2.85" fill="#33287f"/>
<circle cx="2111.69" cy="1254.00" r="2.85" fill="#33287f"/>
<circle cx="2111.69" cy="1272.60" r="2.85" fill="#33287f"/>
<circle cx="2123.30" cy="1272.60" r="2.85" fill="#33287f"/>
<circle cx="2134.90" cy="1272.60" r="2.85" fill="#33287f"/>
<rect x="1781.6" y="796.7" width="381.90" height="497.50" fill="none" stroke="#454545" stroke-width="1.4"/>
<text transform="translate(1792.29,1318.40) scale(1.0400,1)" font-size="20.8" fill="#4d4d4d" text-anchor="start" xml:space="preserve">0</text>
<text transform="translate(1901.94,1318.40) scale(1.0400,1)" font-size="20.8" fill="#4d4d4d" text-anchor="start" xml:space="preserve">10</text>
<text transform="translate(2018.29,1318.40) scale(1.0400,1)" font-size="20.8" fill="#4d4d4d" text-anchor="start" xml:space="preserve">20</text>
<text transform="translate(2134.49,1318.40) scale(1.0400,1)" font-size="20.8" fill="#4d4d4d" text-anchor="start" xml:space="preserve">30</text>
<text transform="translate(1760.82,1280.35) scale(1.0400,1)" font-size="20.8" fill="#4d4d4d" text-anchor="start" xml:space="preserve">0</text>
<text transform="translate(1748.79,1133.90) scale(1.0400,1)" font-size="20.8" fill="#4d4d4d" text-anchor="start" xml:space="preserve">10</text>
<text transform="translate(1748.79,987.45) scale(1.0400,1)" font-size="20.8" fill="#4d4d4d" text-anchor="start" xml:space="preserve">20</text>
<text transform="translate(1748.79,841.00) scale(1.0400,1)" font-size="20.8" fill="#4d4d4d" text-anchor="start" xml:space="preserve">30</text>
<path d="M1798.30,1294.2v4.9M1914.37,1294.2v4.9M2030.44,1294.2v4.9M2146.51,1294.2v4.9M1781.6,1272.60h-4.9M1781.6,1126.15h-4.9M1781.6,979.70h-4.9M1781.6,833.25h-4.9" stroke="#3c3c3c" stroke-width="1.25" fill="none"/>
<text transform="translate(1838.28,771.10) scale(1.0382,1)" font-size="32.6" fill="#2f2a8e" text-anchor="start" xml:space="preserve">CYCD1;1 expression</text>
<text transform="translate(1808.72,1357.90) scale(1.0412,1)" font-size="28.6" fill="#111" text-anchor="start" xml:space="preserve">normalized leaf age (days)</text>
<text transform="translate(1813.10,1398.10) scale(1.0618,1)" font-size="28.0" fill="#8a8a8a" text-anchor="start" xml:space="preserve">23 + <tspan fill="#72c995">day</tspan> - (<tspan fill="#8c7cc4">leaf stage</tspan> × 2)</text>
<text transform="translate(1731.50,1232.72) rotate(-90) scale(1.0352,1)" font-size="32.3" fill="#111" xml:space="preserve">normalized  read counts</text>
</svg></body></html>
